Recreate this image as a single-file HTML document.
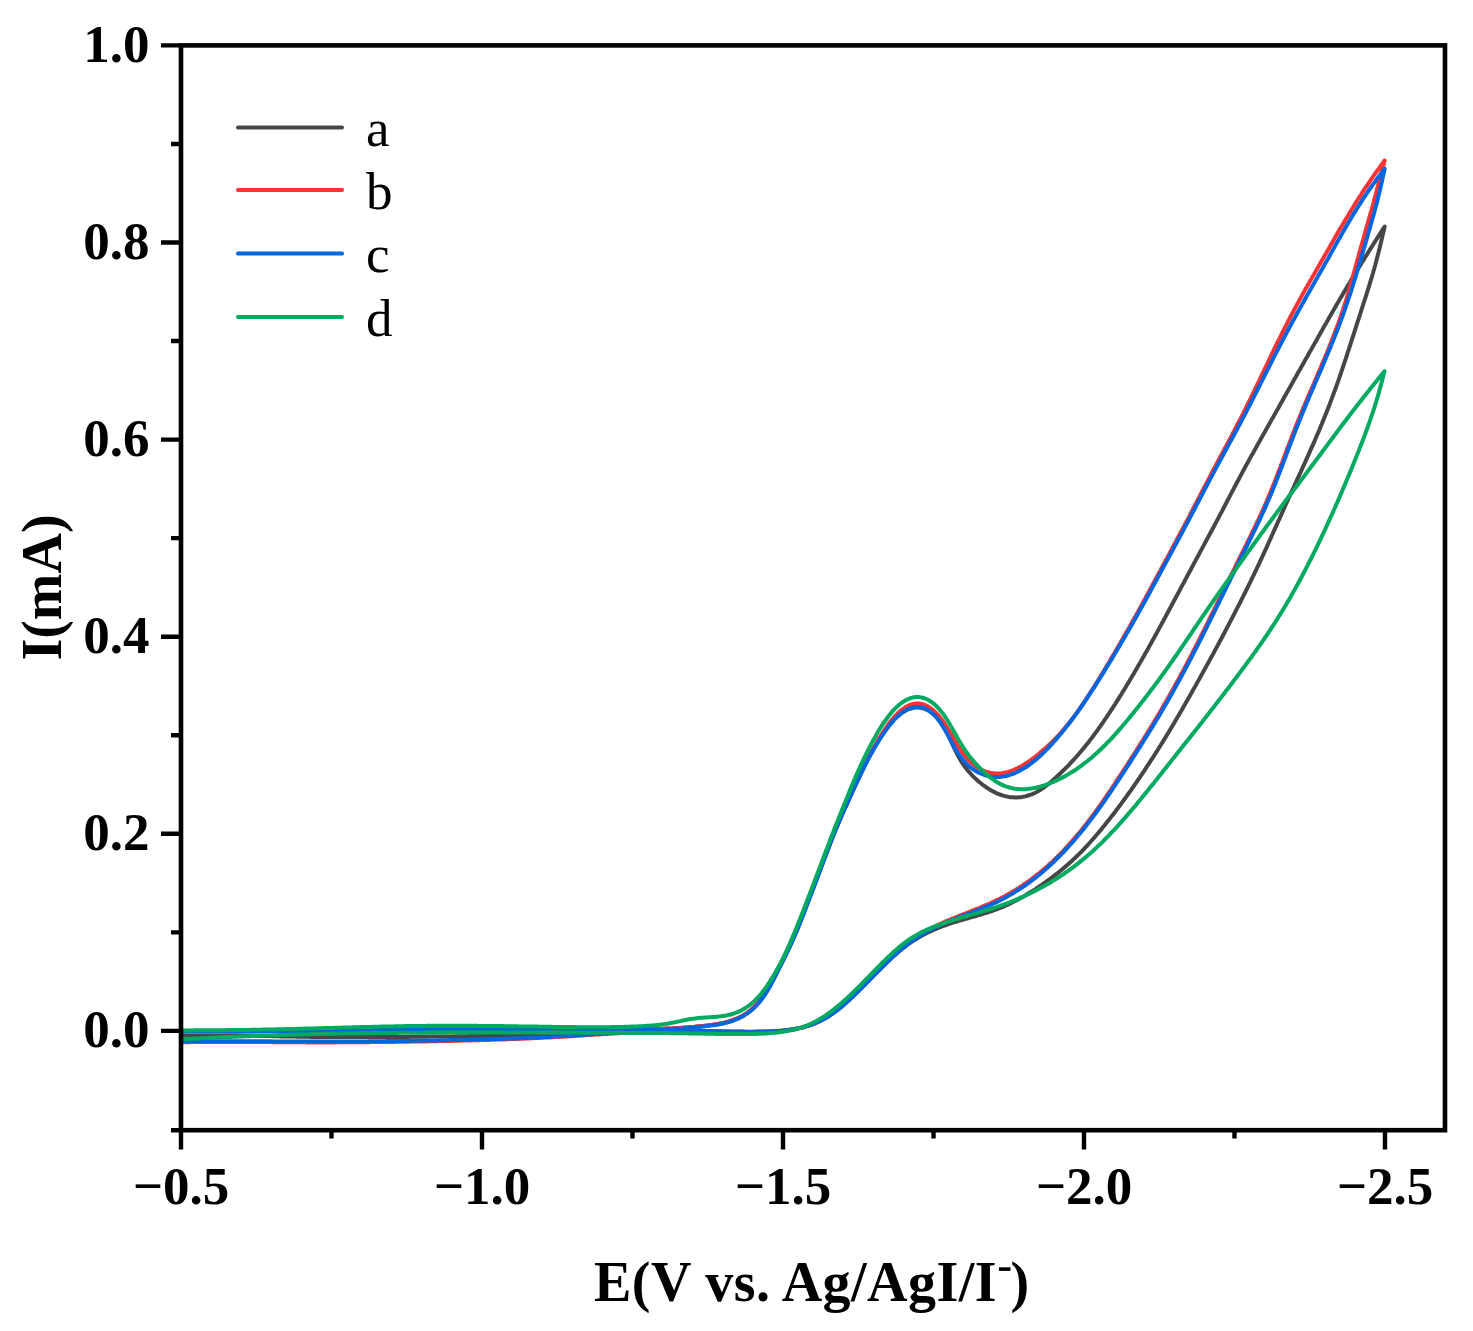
<!DOCTYPE html>
<html><head><meta charset="utf-8"><style>
html,body{margin:0;padding:0;background:#fff;}
body{width:1473px;height:1331px;overflow:hidden;}
svg{display:block;}
text{font-family:"Liberation Serif",serif;}
.b{font-weight:bold;}
</style></head><body>
<svg width="1473" height="1331" viewBox="0 0 1473 1331">
<rect width="1473" height="1331" fill="#fff"/>
<g fill="none" stroke-width="4" stroke-linejoin="round" stroke-linecap="round">
<path d="M181.0 1035.5L183.0 1035.5 185.0 1035.5 187.0 1035.5 189.0 1035.5 191.0 1035.5 193.0 1035.5 195.0 1035.5 197.0 1035.5 199.0 1035.5 201.0 1035.5 203.0 1035.5 205.0 1035.5 207.0 1035.5 209.0 1035.5 211.0 1035.5 213.0 1035.5 215.0 1035.5 217.0 1035.5 219.0 1035.5 221.0 1035.5 223.0 1035.5 225.0 1035.5 227.0 1035.5 229.0 1035.5 231.0 1035.5 233.0 1035.6 235.0 1035.6 237.0 1035.6 239.0 1035.6 241.0 1035.6 243.0 1035.7 245.0 1035.7 247.0 1035.7 249.0 1035.7 251.0 1035.8 253.0 1035.8 255.0 1035.8 257.0 1035.9 259.0 1035.9 261.0 1036.0 263.0 1036.0 265.0 1036.0 267.0 1036.1 269.0 1036.1 271.0 1036.1 273.0 1036.2 275.0 1036.2 277.0 1036.3 279.0 1036.3 281.0 1036.4 283.0 1036.4 285.0 1036.4 287.0 1036.5 289.0 1036.5 291.0 1036.5 293.0 1036.6 295.0 1036.6 297.0 1036.7 299.0 1036.7 301.0 1036.7 303.0 1036.7 305.0 1036.8 307.0 1036.8 309.0 1036.8 311.0 1036.9 313.0 1036.9 315.0 1036.9 317.0 1036.9 319.0 1036.9 321.0 1037.0 323.0 1037.0 325.0 1037.0 327.0 1037.0 329.0 1037.0 331.0 1037.0 333.0 1037.1 335.0 1037.1 337.0 1037.1 339.0 1037.1 341.0 1037.1 343.0 1037.1 345.0 1037.1 347.0 1037.1 349.0 1037.1 351.0 1037.1 353.0 1037.1 355.0 1037.1 357.0 1037.1 359.0 1037.1 361.0 1037.1 363.0 1037.1 365.0 1037.1 367.0 1037.1 369.0 1037.1 371.0 1037.1 373.0 1037.1 375.0 1037.1 377.0 1037.1 379.0 1037.1 381.0 1037.1 383.0 1037.0 385.0 1037.0 387.0 1037.0 389.0 1037.0 391.0 1037.0 393.0 1037.0 395.0 1037.0 397.0 1037.0 399.0 1036.9 401.0 1036.9 403.0 1036.9 405.0 1036.9 407.0 1036.9 409.0 1036.9 411.0 1036.8 413.0 1036.8 415.0 1036.8 417.0 1036.8 419.0 1036.8 421.0 1036.7 423.0 1036.7 425.0 1036.7 427.0 1036.7 429.0 1036.6 431.0 1036.6 433.0 1036.6 435.0 1036.6 437.0 1036.6 439.0 1036.5 441.0 1036.5 443.0 1036.5 445.0 1036.5 447.0 1036.4 449.0 1036.4 451.0 1036.4 453.0 1036.4 455.0 1036.3 457.0 1036.3 459.0 1036.3 461.0 1036.3 463.0 1036.2 465.0 1036.2 467.0 1036.2 469.0 1036.1 471.0 1036.1 473.0 1036.1 475.0 1036.1 477.0 1036.0 479.0 1036.0 481.0 1036.0 483.0 1035.9 485.0 1035.9 487.0 1035.9 489.0 1035.8 491.0 1035.8 493.0 1035.8 495.0 1035.7 497.0 1035.7 499.0 1035.7 501.0 1035.6 503.0 1035.6 505.0 1035.6 507.0 1035.5 509.0 1035.5 511.0 1035.4 513.0 1035.4 515.0 1035.4 517.0 1035.3 519.0 1035.3 521.0 1035.2 523.0 1035.2 525.0 1035.1 527.0 1035.1 529.0 1035.0 531.0 1035.0 533.0 1034.9 535.0 1034.9 537.0 1034.8 539.0 1034.8 541.0 1034.7 543.0 1034.7 545.0 1034.6 547.0 1034.6 549.0 1034.5 551.0 1034.5 553.0 1034.4 555.0 1034.3 557.0 1034.3 559.0 1034.2 561.0 1034.2 563.0 1034.1 565.0 1034.0 567.0 1034.0 569.0 1033.9 571.0 1033.8 573.0 1033.8 575.0 1033.7 577.0 1033.6 579.0 1033.5 581.0 1033.5 583.0 1033.4 585.0 1033.3 587.0 1033.3 589.0 1033.2 591.0 1033.1 593.0 1033.0 595.0 1033.0 597.0 1032.9 599.0 1032.8 601.0 1032.8 603.0 1032.7 605.0 1032.6 607.0 1032.5 609.0 1032.5 611.0 1032.4 613.0 1032.3 615.0 1032.3 617.0 1032.2 619.0 1032.1 621.0 1032.1 623.0 1032.0 625.0 1032.0 627.0 1031.9 629.0 1031.8 631.0 1031.8 633.0 1031.7 635.0 1031.7 637.0 1031.6 639.0 1031.5 641.0 1031.5 643.0 1031.4 645.0 1031.4 647.0 1031.4 649.0 1031.3 651.0 1031.3 653.0 1031.2 655.0 1031.2 657.0 1031.2 659.0 1031.1 661.0 1031.1 663.0 1031.1 665.0 1031.0 667.0 1031.0 669.0 1031.0 671.0 1031.0 673.0 1030.9 675.0 1030.9 677.0 1030.9 679.0 1030.9 681.0 1030.9 683.0 1030.9 685.0 1030.9 687.0 1030.9 689.0 1030.9 691.0 1030.9 693.0 1030.9 695.1 1030.9 697.1 1030.9 699.1 1031.0 701.1 1031.0 703.1 1031.0 705.1 1031.0 707.1 1031.1 709.1 1031.1 711.2 1031.1 713.2 1031.2 715.2 1031.2 717.2 1031.2 719.2 1031.3 721.2 1031.3 723.2 1031.4 725.3 1031.4 727.3 1031.4 729.3 1031.5 731.3 1031.5 733.3 1031.5 735.4 1031.6 737.4 1031.6 739.4 1031.6 741.4 1031.6 743.4 1031.6 745.4 1031.7 747.5 1031.7 749.5 1031.7 751.5 1031.7 753.5 1031.7 755.5 1031.7 757.6 1031.6 759.6 1031.6 761.6 1031.6 763.6 1031.6 765.6 1031.5 767.6 1031.5 769.6 1031.4 771.6 1031.3 773.7 1031.2 775.7 1031.1 777.7 1031.0 779.7 1030.8 781.6 1030.7 783.6 1030.5 785.6 1030.3 787.6 1030.1 789.5 1029.8 791.5 1029.5 793.5 1029.2 795.4 1028.9 797.3 1028.5 799.3 1028.1 801.2 1027.7 803.1 1027.2 805.0 1026.7 806.8 1026.1 808.7 1025.6 810.6 1024.9 812.4 1024.3 814.2 1023.6 816.0 1022.8 817.8 1022.0 819.6 1021.2 821.4 1020.4 823.1 1019.4 824.8 1018.5 826.5 1017.5 828.2 1016.5 829.8 1015.4 831.5 1014.3 833.1 1013.2 834.7 1012.1 836.3 1010.9 837.9 1009.7 839.4 1008.4 841.0 1007.2 842.5 1005.9 844.0 1004.6 845.5 1003.3 847.0 1001.9 848.5 1000.6 850.0 999.2 851.4 997.8 852.9 996.4 854.3 995.0 855.8 993.6 857.2 992.2 858.7 990.8 860.1 989.4 861.5 988.0 862.9 986.5 864.3 985.1 865.8 983.7 867.2 982.2 868.6 980.8 870.0 979.4 871.4 977.9 872.8 976.5 874.2 975.0 875.6 973.6 877.1 972.2 878.5 970.8 879.9 969.3 881.3 967.9 882.8 966.5 884.2 965.1 885.6 963.7 887.1 962.3 888.5 960.9 890.0 959.5 891.4 958.2 892.9 956.8 894.4 955.5 895.9 954.2 897.4 952.8 898.9 951.5 900.4 950.3 901.9 949.0 903.5 947.8 905.1 946.6 906.6 945.4 908.2 944.2 909.8 943.1 911.5 941.9 913.1 940.8 914.8 939.8 916.5 938.7 918.2 937.7 919.9 936.7 921.6 935.8 923.4 934.8 925.1 933.9 926.9 933.0 928.7 932.2 930.5 931.3 932.3 930.5 934.1 929.7 935.9 928.9 937.8 928.1 939.6 927.4 941.5 926.7 943.3 926.0 945.2 925.3 947.1 924.6 949.0 923.9 950.9 923.3 952.8 922.7 954.7 922.1 956.6 921.5 958.5 920.9 960.5 920.4 962.4 919.8 964.3 919.3 966.2 918.7 968.2 918.2 970.1 917.6 972.0 917.1 973.9 916.5 975.9 916.0 977.8 915.4 979.7 914.9 981.6 914.3 983.5 913.7 985.4 913.1 987.3 912.5 989.2 911.9 991.1 911.3 993.0 910.6 994.9 909.9 996.7 909.3 998.6 908.5 1000.4 907.8 1002.3 907.1 1004.1 906.3 1005.9 905.5 1007.7 904.6 1009.5 903.8 1011.3 902.9 1013.1 902.0 1014.8 901.1 1016.6 900.2 1018.4 899.3 1020.1 898.3 1021.8 897.4 1023.6 896.4 1025.3 895.4 1027.0 894.3 1028.7 893.3 1030.4 892.3 1032.1 891.2 1033.8 890.1 1035.5 889.1 1037.1 888.0 1038.8 886.8 1040.4 885.7 1042.1 884.6 1043.7 883.5 1045.4 882.3 1047.0 881.1 1048.6 880.0 1050.2 878.8 1051.8 877.6 1053.4 876.4 1055.0 875.2 1056.6 873.9 1058.1 872.7 1059.7 871.4 1061.2 870.2 1062.8 868.9 1064.3 867.6 1065.8 866.3 1067.3 865.0 1068.8 863.7 1070.3 862.3 1071.8 861.0 1073.2 859.6 1074.7 858.3 1076.1 856.9 1077.5 855.5 1079.0 854.1 1080.4 852.7 1081.8 851.3 1083.2 849.8 1084.5 848.4 1085.9 846.9 1087.3 845.5 1088.6 844.0 1090.0 842.5 1091.3 841.0 1092.6 839.5 1093.9 838.0 1095.2 836.5 1096.5 835.0 1097.8 833.5 1099.1 831.9 1100.4 830.4 1101.7 828.9 1102.9 827.3 1104.2 825.8 1105.4 824.2 1106.7 822.6 1107.9 821.1 1109.2 819.5 1110.4 817.9 1111.6 816.3 1112.9 814.7 1114.1 813.2 1115.3 811.6 1116.5 810.0 1117.7 808.4 1118.9 806.8 1120.1 805.2 1121.3 803.6 1122.5 801.9 1123.7 800.3 1124.8 798.7 1126.0 797.1 1127.2 795.5 1128.3 793.8 1129.5 792.2 1130.7 790.6 1131.8 788.9 1133.0 787.3 1134.1 785.7 1135.2 784.0 1136.4 782.4 1137.5 780.7 1138.6 779.1 1139.8 777.4 1140.9 775.7 1142.0 774.1 1143.1 772.4 1144.2 770.8 1145.3 769.1 1146.4 767.4 1147.5 765.7 1148.6 764.1 1149.7 762.4 1150.8 760.7 1151.9 759.0 1153.0 757.4 1154.1 755.7 1155.1 754.0 1156.2 752.3 1157.3 750.6 1158.3 748.9 1159.4 747.2 1160.5 745.5 1161.5 743.8 1162.6 742.1 1163.6 740.4 1164.7 738.7 1165.7 737.0 1166.7 735.3 1167.8 733.6 1168.8 731.9 1169.9 730.2 1170.9 728.4 1171.9 726.7 1172.9 725.0 1174.0 723.3 1175.0 721.6 1176.0 719.8 1177.0 718.1 1178.0 716.4 1179.0 714.7 1180.0 712.9 1181.0 711.2 1182.0 709.5 1183.0 707.7 1184.0 706.0 1185.0 704.3 1186.0 702.5 1187.0 700.8 1188.0 699.0 1189.0 697.3 1190.0 695.6 1191.0 693.8 1191.9 692.1 1192.9 690.3 1193.9 688.6 1194.9 686.9 1195.9 685.1 1196.8 683.4 1197.8 681.6 1198.8 679.9 1199.8 678.1 1200.7 676.4 1201.7 674.6 1202.7 672.9 1203.6 671.1 1204.6 669.4 1205.6 667.6 1206.5 665.9 1207.5 664.1 1208.5 662.4 1209.4 660.6 1210.4 658.9 1211.3 657.1 1212.3 655.4 1213.3 653.6 1214.2 651.8 1215.2 650.1 1216.1 648.3 1217.1 646.6 1218.0 644.8 1218.9 643.0 1219.9 641.3 1220.8 639.5 1221.8 637.8 1222.7 636.0 1223.6 634.2 1224.6 632.5 1225.5 630.7 1226.4 628.9 1227.3 627.1 1228.3 625.4 1229.2 623.6 1230.1 621.8 1231.0 620.1 1232.0 618.3 1232.9 616.5 1233.8 614.7 1234.7 613.0 1235.6 611.2 1236.5 609.4 1237.4 607.6 1238.4 605.8 1239.3 604.1 1240.2 602.3 1241.1 600.5 1242.0 598.7 1242.9 596.9 1243.8 595.1 1244.7 593.3 1245.6 591.6 1246.4 589.8 1247.3 588.0 1248.2 586.2 1249.1 584.4 1250.0 582.6 1250.9 580.8 1251.7 579.0 1252.6 577.2 1253.5 575.4 1254.3 573.6 1255.2 571.8 1256.1 570.0 1256.9 568.2 1257.8 566.4 1258.6 564.6 1259.5 562.8 1260.3 561.0 1261.2 559.2 1262.0 557.3 1262.8 555.5 1263.7 553.7 1264.5 551.9 1265.3 550.1 1266.2 548.3 1267.0 546.4 1267.8 544.6 1268.6 542.8 1269.4 541.0 1270.3 539.1 1271.1 537.3 1271.9 535.5 1272.7 533.7 1273.5 531.9 1274.3 530.0 1275.2 528.2 1276.0 526.4 1276.8 524.6 1277.6 522.7 1278.4 520.9 1279.3 519.1 1280.1 517.3 1280.9 515.4 1281.7 513.6 1282.5 511.8 1283.4 510.0 1284.2 508.1 1285.0 506.3 1285.8 504.5 1286.6 502.7 1287.5 500.9 1288.3 499.0 1289.1 497.2 1290.0 495.4 1290.8 493.6 1291.6 491.8 1292.4 489.9 1293.3 488.1 1294.1 486.3 1294.9 484.5 1295.8 482.7 1296.6 480.9 1297.4 479.0 1298.3 477.2 1299.1 475.4 1299.9 473.6 1300.8 471.8 1301.6 470.0 1302.4 468.1 1303.2 466.3 1304.1 464.5 1304.9 462.7 1305.7 460.9 1306.5 459.1 1307.4 457.2 1308.2 455.4 1309.0 453.6 1309.8 451.8 1310.6 449.9 1311.4 448.1 1312.2 446.3 1313.1 444.5 1313.9 442.6 1314.7 440.8 1315.4 439.0 1316.2 437.1 1317.0 435.3 1317.8 433.5 1318.6 431.6 1319.4 429.8 1320.1 428.0 1320.9 426.1 1321.7 424.3 1322.4 422.4 1323.2 420.6 1323.9 418.7 1324.7 416.9 1325.4 415.0 1326.2 413.2 1326.9 411.3 1327.6 409.5 1328.4 407.6 1329.1 405.7 1329.8 403.9 1330.5 402.0 1331.2 400.1 1331.9 398.3 1332.6 396.4 1333.3 394.5 1334.0 392.6 1334.7 390.8 1335.4 388.9 1336.1 387.0 1336.7 385.1 1337.4 383.2 1338.1 381.4 1338.7 379.5 1339.4 377.6 1340.0 375.7 1340.7 373.8 1341.3 371.9 1342.0 370.0 1342.6 368.1 1343.2 366.2 1343.9 364.3 1344.5 362.4 1345.1 360.5 1345.8 358.6 1346.4 356.7 1347.0 354.8 1347.6 352.9 1348.2 351.0 1348.9 349.1 1349.5 347.2 1350.1 345.3 1350.7 343.4 1351.3 341.5 1351.9 339.6 1352.5 337.7 1353.2 335.8 1353.8 333.9 1354.4 332.0 1355.0 330.1 1355.6 328.2 1356.2 326.3 1356.8 324.4 1357.4 322.5 1358.0 320.6 1358.7 318.7 1359.3 316.8 1359.9 314.9 1360.5 313.0 1361.1 311.1 1361.7 309.2 1362.3 307.2 1362.9 305.3 1363.5 303.4 1364.1 301.5 1364.8 299.6 1365.4 297.7 1366.0 295.8 1366.6 293.9 1367.2 292.0 1367.8 290.1 1368.4 288.2 1369.0 286.3 1369.6 284.4 1370.1 282.5 1370.7 280.6 1371.3 278.7 1371.9 276.8 1372.4 274.9 1373.0 273.0 1373.5 271.0 1374.1 269.1 1374.6 267.2 1375.2 265.3 1375.7 263.3 1376.2 261.4 1376.7 259.5 1377.2 257.6 1377.7 255.6 1378.2 253.7 1378.7 251.8 1379.2 249.8 1379.6 247.9 1380.1 245.9 1380.6 244.0 1381.1 242.1 1381.5 240.1 1382.0 238.2 1382.4 236.2 1382.9 234.3 1383.3 232.3 1383.8 230.4 1384.2 228.4 1384.7 226.5 1383.6 228.2 1382.5 229.9 1381.4 231.5 1380.4 233.2 1379.3 234.9 1378.2 236.6 1377.1 238.3 1376.0 240.0 1375.0 241.6 1373.9 243.3 1372.8 245.0 1371.8 246.7 1370.7 248.4 1369.6 250.1 1368.6 251.8 1367.5 253.5 1366.5 255.2 1365.4 256.9 1364.4 258.6 1363.3 260.3 1362.3 262.0 1361.2 263.7 1360.2 265.4 1359.1 267.1 1358.1 268.8 1357.0 270.5 1356.0 272.2 1355.0 273.9 1353.9 275.6 1352.9 277.3 1351.9 279.0 1350.8 280.7 1349.8 282.5 1348.8 284.2 1347.7 285.9 1346.7 287.6 1345.7 289.3 1344.7 291.0 1343.6 292.7 1342.6 294.5 1341.6 296.2 1340.6 297.9 1339.6 299.6 1338.6 301.4 1337.6 303.1 1336.6 304.8 1335.6 306.5 1334.6 308.3 1333.6 310.0 1332.6 311.7 1331.6 313.5 1330.6 315.2 1329.6 316.9 1328.6 318.7 1327.7 320.4 1326.7 322.1 1325.7 323.9 1324.7 325.6 1323.7 327.3 1322.7 329.1 1321.8 330.8 1320.8 332.5 1319.8 334.3 1318.8 336.0 1317.8 337.7 1316.9 339.5 1315.9 341.2 1314.9 342.9 1313.9 344.7 1312.9 346.4 1312.0 348.1 1311.0 349.9 1310.0 351.6 1309.0 353.3 1308.1 355.0 1307.1 356.8 1306.1 358.5 1305.1 360.2 1304.2 362.0 1303.2 363.7 1302.2 365.4 1301.2 367.1 1300.3 368.9 1299.3 370.6 1298.3 372.3 1297.3 374.0 1296.4 375.8 1295.4 377.5 1294.4 379.2 1293.4 381.0 1292.5 382.7 1291.5 384.4 1290.5 386.2 1289.6 387.9 1288.6 389.6 1287.6 391.4 1286.6 393.1 1285.7 394.8 1284.7 396.6 1283.7 398.3 1282.8 400.0 1281.8 401.8 1280.8 403.5 1279.8 405.2 1278.9 407.0 1277.9 408.7 1276.9 410.4 1275.9 412.2 1274.9 413.9 1274.0 415.6 1273.0 417.4 1272.0 419.1 1271.0 420.8 1270.1 422.6 1269.1 424.3 1268.1 426.1 1267.1 427.8 1266.1 429.5 1265.2 431.3 1264.2 433.0 1263.2 434.7 1262.2 436.5 1261.2 438.2 1260.3 440.0 1259.3 441.7 1258.3 443.4 1257.3 445.2 1256.4 446.9 1255.4 448.7 1254.4 450.4 1253.5 452.2 1252.5 453.9 1251.5 455.6 1250.5 457.4 1249.6 459.1 1248.6 460.9 1247.7 462.6 1246.7 464.4 1245.7 466.1 1244.8 467.9 1243.8 469.7 1242.9 471.4 1241.9 473.2 1241.0 474.9 1240.1 476.7 1239.1 478.5 1238.2 480.2 1237.2 482.0 1236.3 483.8 1235.4 485.5 1234.4 487.3 1233.5 489.1 1232.6 490.8 1231.6 492.6 1230.7 494.4 1229.8 496.1 1228.9 497.9 1227.9 499.7 1227.0 501.5 1226.1 503.2 1225.2 505.0 1224.2 506.8 1223.3 508.5 1222.4 510.3 1221.5 512.1 1220.5 513.9 1219.6 515.6 1218.7 517.4 1217.7 519.2 1216.8 520.9 1215.9 522.7 1214.9 524.5 1214.0 526.2 1213.1 528.0 1212.1 529.8 1211.2 531.5 1210.2 533.3 1209.3 535.0 1208.3 536.8 1207.4 538.6 1206.4 540.3 1205.5 542.1 1204.5 543.8 1203.6 545.6 1202.6 547.4 1201.7 549.1 1200.7 550.9 1199.8 552.6 1198.9 554.4 1197.9 556.2 1197.0 557.9 1196.0 559.7 1195.1 561.4 1194.1 563.2 1193.2 565.0 1192.2 566.7 1191.3 568.5 1190.4 570.3 1189.4 572.0 1188.5 573.8 1187.5 575.5 1186.6 577.3 1185.6 579.1 1184.7 580.8 1183.8 582.6 1182.8 584.4 1181.9 586.1 1180.9 587.9 1180.0 589.7 1179.1 591.4 1178.1 593.2 1177.2 594.9 1176.2 596.7 1175.3 598.5 1174.3 600.2 1173.4 602.0 1172.4 603.8 1171.5 605.5 1170.6 607.3 1169.6 609.0 1168.7 610.8 1167.7 612.6 1166.8 614.3 1165.8 616.1 1164.9 617.9 1163.9 619.6 1163.0 621.4 1162.0 623.1 1161.1 624.9 1160.1 626.6 1159.2 628.4 1158.2 630.2 1157.3 631.9 1156.3 633.7 1155.3 635.4 1154.4 637.2 1153.4 638.9 1152.4 640.7 1151.5 642.4 1150.5 644.2 1149.5 645.9 1148.6 647.7 1147.6 649.4 1146.6 651.2 1145.6 652.9 1144.6 654.7 1143.7 656.4 1142.7 658.1 1141.7 659.9 1140.7 661.6 1139.7 663.4 1138.7 665.1 1137.7 666.8 1136.7 668.6 1135.7 670.3 1134.7 672.0 1133.7 673.7 1132.6 675.5 1131.6 677.2 1130.6 678.9 1129.6 680.6 1128.6 682.4 1127.5 684.1 1126.5 685.8 1125.5 687.5 1124.4 689.2 1123.4 690.9 1122.3 692.6 1121.3 694.3 1120.2 696.0 1119.2 697.7 1118.1 699.4 1117.0 701.1 1115.9 702.8 1114.9 704.5 1113.8 706.2 1112.7 707.9 1111.6 709.5 1110.5 711.2 1109.4 712.9 1108.3 714.5 1107.2 716.2 1106.1 717.9 1104.9 719.5 1103.8 721.2 1102.7 722.8 1101.5 724.5 1100.4 726.1 1099.2 727.7 1098.1 729.4 1096.9 731.0 1095.7 732.6 1094.5 734.2 1093.4 735.8 1092.2 737.4 1091.0 739.0 1089.7 740.6 1088.5 742.2 1087.3 743.7 1086.0 745.3 1084.8 746.9 1083.5 748.4 1082.2 749.9 1080.9 751.5 1079.6 753.0 1078.3 754.5 1077.0 756.0 1075.7 757.5 1074.3 759.0 1073.0 760.5 1071.6 761.9 1070.3 763.4 1068.9 764.8 1067.5 766.3 1066.1 767.7 1064.7 769.1 1063.2 770.5 1061.8 771.9 1060.4 773.3 1058.9 774.7 1057.5 776.0 1056.0 777.4 1054.5 778.8 1053.0 780.1 1051.5 781.4 1050.0 782.7 1048.5 784.0 1046.9 785.2 1045.3 786.4 1043.7 787.6 1042.1 788.7 1040.5 789.8 1038.8 790.8 1037.1 791.8 1035.3 792.7 1033.6 793.5 1031.8 794.3 1030.0 794.9 1028.1 795.5 1026.3 796.1 1024.4 796.5 1022.5 796.9 1020.5 797.2 1018.6 797.3 1016.7 797.4 1014.7 797.4 1012.8 797.3 1010.9 797.2 1008.9 796.9 1007.0 796.5 1005.1 796.1 1003.2 795.6 1001.3 795.0 999.4 794.3 997.6 793.6 995.8 792.8 994.0 791.9 992.2 791.0 990.5 790.0 988.7 788.9 987.0 787.8 985.4 786.7 983.7 785.5 982.1 784.3 980.6 783.0 979.0 781.7 977.5 780.4 976.0 779.1 974.5 777.7 973.1 776.3 971.7 774.8 970.4 773.3 969.0 771.9 967.7 770.3 966.5 768.8 965.3 767.2 964.1 765.6 963.0 763.9 961.9 762.3 960.8 760.6 959.8 758.9 958.8 757.1 957.8 755.3 956.9 753.5 956.0 751.7 955.1 749.9 954.2 748.1 953.3 746.2 952.5 744.3 951.6 742.5 950.8 740.6 949.9 738.7 949.0 736.9 948.1 735.0 947.2 733.2 946.2 731.3 945.2 729.5 944.2 727.7 943.2 726.0 942.1 724.3 940.9 722.6 939.8 721.0 938.6 719.4 937.3 717.9 936.0 716.5 934.6 715.1 933.2 713.8 931.7 712.7 930.2 711.6 928.7 710.6 927.1 709.8 925.4 709.1 923.8 708.5 922.1 708.0 920.4 707.7 918.6 707.5 916.9 707.5 915.1 707.6 913.4 707.8 911.7 708.2 909.9 708.7 908.2 709.3 906.6 710.1 904.9 711.0 903.3 711.9 901.7 713.0 900.1 714.1 898.6 715.4 897.1 716.6 895.6 718.0 894.2 719.4 892.8 720.9 891.5 722.4 890.1 724.0 888.9 725.6 887.6 727.2 886.4 728.8 885.1 730.5 884.0 732.2 882.8 733.9 881.6 735.6 880.5 737.3 879.4 739.0 878.3 740.8 877.3 742.5 876.2 744.3 875.2 746.0 874.1 747.8 873.1 749.6 872.1 751.3 871.1 753.1 870.2 754.9 869.2 756.7 868.3 758.5 867.3 760.3 866.4 762.1 865.5 763.9 864.6 765.7 863.7 767.5 862.8 769.3 861.9 771.1 861.0 772.9 860.2 774.7 859.3 776.5 858.4 778.3 857.6 780.1 856.7 781.9 855.9 783.8 855.1 785.6 854.2 787.4 853.4 789.2 852.6 791.0 851.7 792.8 850.9 794.7 850.1 796.5 849.3 798.3 848.4 800.1 847.6 801.9 846.8 803.7 846.0 805.5 845.2 807.4 844.3 809.2 843.5 811.0 842.7 812.8 841.9 814.6 841.1 816.5 840.3 818.3 839.5 820.1 838.7 822.0 838.0 823.8 837.2 825.6 836.4 827.5 835.7 829.3 834.9 831.2 834.2 833.0 833.4 834.9 832.7 836.7 832.0 838.6 831.2 840.4 830.5 842.3 829.8 844.2 829.1 846.0 828.4 847.9 827.6 849.8 826.9 851.6 826.2 853.5 825.5 855.4 824.8 857.2 824.1 859.1 823.4 861.0 822.7 862.9 822.0 864.7 821.3 866.6 820.6 868.5 819.9 870.4 819.2 872.2 818.5 874.1 817.8 876.0 817.1 877.8 816.4 879.7 815.7 881.6 815.0 883.5 814.2 885.3 813.5 887.2 812.8 889.1 812.1 891.0 811.4 892.8 810.7 894.7 810.0 896.6 809.3 898.4 808.6 900.3 807.9 902.2 807.1 904.0 806.4 905.9 805.7 907.8 805.0 909.7 804.3 911.5 803.5 913.4 802.8 915.2 802.1 917.1 801.4 919.0 800.6 920.8 799.9 922.7 799.1 924.5 798.4 926.4 797.6 928.2 796.9 930.1 796.1 931.9 795.3 933.8 794.5 935.6 793.7 937.5 792.9 939.3 792.1 941.1 791.3 942.9 790.4 944.7 789.6 946.6 788.7 948.4 787.9 950.2 787.0 952.0 786.1 953.8 785.3 955.6 784.4 957.4 783.5 959.2 782.6 961.0 781.7 962.8 780.8 964.5 779.9 966.3 779.0 968.1 778.1 969.9 777.2 971.7 776.3 973.5 775.4 975.3 774.5 977.1 773.6 978.9 772.6 980.7 771.7 982.4 770.8 984.2 769.8 986.0 768.8 987.7 767.8 989.4 766.8 991.2 765.7 992.9 764.6 994.5 763.5 996.2 762.3 997.8 761.1 999.4 759.9 1001.0 758.6 1002.5 757.3 1004.0 755.9 1005.5 754.5 1006.9 753.1 1008.2 751.6 1009.5 750.1 1010.8 748.5 1012.0 746.9 1013.2 745.2 1014.2 743.5 1015.3 741.8 1016.2 740.0 1017.1 738.2 1018.0 736.4 1018.8 734.5 1019.5 732.7 1020.2 730.8 1020.8 728.9 1021.4 726.9 1022.0 725.0 1022.5 723.0 1022.9 721.1 1023.3 719.1 1023.7 717.1 1024.1 715.2 1024.4 713.2 1024.7 711.2 1025.0 709.2 1025.2 707.2 1025.5 705.2 1025.7 703.2 1025.9 701.2 1026.1 699.2 1026.3 697.2 1026.5 695.2 1026.7 693.2 1026.9 691.2 1027.0 689.2 1027.2 687.2 1027.4 685.2 1027.5 683.2 1027.7 681.2 1027.8 679.3 1027.9 677.3 1028.1 675.3 1028.2 673.3 1028.3 671.3 1028.4 669.3 1028.5 667.3 1028.6 665.3 1028.6 663.3 1028.7 661.3 1028.8 659.3 1028.8 657.3 1028.9 655.3 1028.9 653.3 1028.9 651.3 1029.0 649.3 1029.0 647.3 1029.0 645.3 1029.0 643.3 1029.0 641.3 1029.1 639.3 1029.1 637.3 1029.1 635.3 1029.1 633.3 1029.1 631.3 1029.1 629.3 1029.1 627.3 1029.1 625.2 1029.2 623.2 1029.2 621.2 1029.2 619.2 1029.2 617.2 1029.2 615.2 1029.2 613.2 1029.2 611.2 1029.2 609.2 1029.2 607.2 1029.2 605.2 1029.3 603.2 1029.3 601.2 1029.3 599.2 1029.3 597.2 1029.3 595.2 1029.3 593.2 1029.3 591.2 1029.3 589.2 1029.3 587.2 1029.3 585.2 1029.3 583.2 1029.3 581.2 1029.3 579.2 1029.3 577.2 1029.3 575.2 1029.3 573.2 1029.3 571.2 1029.3 569.2 1029.3 567.2 1029.3 565.2 1029.3 563.2 1029.3 561.2 1029.3 559.2 1029.3 557.2 1029.3 555.2 1029.3 553.2 1029.3 551.2 1029.3 549.2 1029.3 547.2 1029.2 545.2 1029.2 543.2 1029.2 541.2 1029.2 539.2 1029.2 537.2 1029.2 535.2 1029.2 533.2 1029.2 531.2 1029.2 529.2 1029.2 527.2 1029.2 525.2 1029.1 523.2 1029.1 521.2 1029.1 519.2 1029.1 517.2 1029.1 515.2 1029.1 513.2 1029.1 511.2 1029.1 509.2 1029.1 507.2 1029.0 505.2 1029.0 503.2 1029.0 501.2 1029.0 499.2 1029.0 497.2 1029.0 495.2 1029.0 493.2 1029.0 491.2 1029.0 489.2 1028.9 487.2 1028.9 485.2 1028.9 483.2 1028.9 481.2 1028.9 479.2 1028.9 477.2 1028.9 475.2 1028.9 473.2 1028.9 471.2 1028.9 469.2 1028.9 467.2 1028.9 465.2 1028.9 463.2 1028.9 461.2 1028.9 459.2 1028.8 457.1 1028.8 455.1 1028.8 453.1 1028.8 451.1 1028.8 449.1 1028.8 447.1 1028.8 445.1 1028.8 443.1 1028.9 441.1 1028.9 439.1 1028.9 437.1 1028.9 435.1 1028.9 433.1 1028.9 431.1 1028.9 429.1 1028.9 427.1 1028.9 425.1 1028.9 423.1 1028.9 421.1 1028.9 419.1 1029.0 417.1 1029.0 415.1 1029.0 413.1 1029.0 411.1 1029.0 409.1 1029.0 407.1 1029.0 405.1 1029.1 403.1 1029.1 401.1 1029.1 399.1 1029.1 397.1 1029.1 395.1 1029.2 393.1 1029.2 391.1 1029.2 389.1 1029.2 387.1 1029.2 385.1 1029.3 383.1 1029.3 381.1 1029.3 379.1 1029.3 377.1 1029.4 375.1 1029.4 373.1 1029.4 371.1 1029.4 369.1 1029.5 367.1 1029.5 365.1 1029.5 363.1 1029.5 361.1 1029.6 359.1 1029.6 357.1 1029.6 355.1 1029.6 353.1 1029.7 351.1 1029.7 349.1 1029.7 347.1 1029.7 345.1 1029.8 343.1 1029.8 341.1 1029.8 339.1 1029.9 337.1 1029.9 335.1 1029.9 333.1 1029.9 331.1 1030.0 329.1 1030.0 327.1 1030.0 325.1 1030.0 323.1 1030.1 321.1 1030.1 319.1 1030.1 317.1 1030.2 315.1 1030.2 313.1 1030.2 311.1 1030.2 309.1 1030.3 307.1 1030.3 305.1 1030.3 303.1 1030.3 301.1 1030.4 299.1 1030.4 297.1 1030.4 295.1 1030.4 293.1 1030.5 291.1 1030.5 289.1 1030.5 287.1 1030.5 285.1 1030.5 283.1 1030.6 281.1 1030.6 279.1 1030.6 277.1 1030.6 275.1 1030.6 273.1 1030.7 271.1 1030.7 269.1 1030.7 267.0 1030.7 265.0 1030.7 263.0 1030.8 261.0 1030.8 259.0 1030.8 257.0 1030.8 255.0 1030.8 253.0 1030.8 251.0 1030.8 249.0 1030.9 247.0 1030.9 245.0 1030.9 243.0 1030.9 241.0 1030.9 239.0 1030.9 237.0 1030.9 235.0 1030.9 233.0 1030.9 231.0 1030.9 229.0 1030.9 227.0 1030.9 225.0 1031.0 223.0 1031.0 221.0 1031.0 219.0 1031.0 217.0 1031.0 215.0 1031.0 213.0 1031.0 211.0 1031.0 209.0 1031.0 207.0 1031.0 205.0 1031.0 203.0 1031.0 201.0 1031.0 199.0 1031.0 197.0 1031.0 195.0 1031.0 193.0 1031.0 191.0 1031.0 189.0 1031.0 187.0 1031.0 185.0 1031.0 183.0 1031.0 181.0 1031.0" stroke="#464646"/>
<path d="M181.0 1042.2L183.0 1042.2 185.0 1042.2 187.0 1042.2 189.0 1042.2 191.0 1042.1 193.0 1042.1 195.0 1042.1 197.0 1042.1 199.0 1042.1 201.0 1042.1 203.0 1042.1 205.0 1042.1 207.0 1042.1 209.0 1042.0 211.0 1042.0 213.0 1042.0 215.0 1042.0 217.0 1042.0 219.0 1042.0 221.0 1042.0 223.0 1042.0 225.0 1042.0 227.0 1042.0 229.0 1042.0 231.0 1042.0 233.0 1042.0 235.0 1042.0 237.0 1042.0 239.0 1042.0 241.0 1042.0 243.1 1042.0 245.1 1042.0 247.1 1042.0 249.1 1042.0 251.1 1042.0 253.1 1042.0 255.1 1042.0 257.1 1042.1 259.1 1042.1 261.1 1042.1 263.1 1042.1 265.1 1042.1 267.1 1042.1 269.1 1042.1 271.1 1042.1 273.1 1042.2 275.1 1042.2 277.1 1042.2 279.1 1042.2 281.1 1042.2 283.1 1042.2 285.1 1042.2 287.1 1042.3 289.1 1042.3 291.1 1042.3 293.1 1042.3 295.1 1042.3 297.1 1042.3 299.1 1042.3 301.1 1042.3 303.1 1042.3 305.1 1042.3 307.1 1042.4 309.1 1042.4 311.1 1042.4 313.1 1042.4 315.1 1042.4 317.1 1042.4 319.1 1042.4 321.1 1042.4 323.1 1042.4 325.1 1042.4 327.1 1042.4 329.1 1042.4 331.1 1042.4 333.1 1042.4 335.1 1042.4 337.1 1042.3 339.1 1042.3 341.1 1042.3 343.1 1042.3 345.1 1042.3 347.1 1042.3 349.1 1042.3 351.1 1042.3 353.1 1042.3 355.1 1042.3 357.1 1042.2 359.1 1042.2 361.1 1042.2 363.2 1042.2 365.2 1042.2 367.2 1042.2 369.2 1042.2 371.2 1042.1 373.2 1042.1 375.2 1042.1 377.2 1042.1 379.2 1042.1 381.2 1042.0 383.2 1042.0 385.2 1042.0 387.2 1042.0 389.2 1041.9 391.2 1041.9 393.2 1041.9 395.2 1041.9 397.2 1041.8 399.2 1041.8 401.2 1041.8 403.2 1041.7 405.2 1041.7 407.2 1041.7 409.2 1041.7 411.2 1041.6 413.2 1041.6 415.2 1041.6 417.2 1041.5 419.2 1041.5 421.2 1041.5 423.2 1041.4 425.2 1041.4 427.2 1041.4 429.2 1041.3 431.2 1041.3 433.2 1041.2 435.2 1041.2 437.2 1041.2 439.2 1041.1 441.2 1041.1 443.2 1041.0 445.2 1041.0 447.2 1041.0 449.2 1040.9 451.2 1040.9 453.2 1040.8 455.2 1040.8 457.2 1040.7 459.2 1040.7 461.2 1040.6 463.2 1040.6 465.2 1040.5 467.2 1040.5 469.2 1040.4 471.2 1040.4 473.2 1040.3 475.2 1040.3 477.2 1040.2 479.2 1040.2 481.2 1040.1 483.2 1040.1 485.2 1040.0 487.2 1039.9 489.2 1039.9 491.2 1039.8 493.2 1039.8 495.2 1039.7 497.2 1039.6 499.3 1039.6 501.3 1039.5 503.3 1039.4 505.3 1039.4 507.3 1039.3 509.3 1039.2 511.3 1039.1 513.3 1039.1 515.3 1039.0 517.3 1038.9 519.3 1038.8 521.3 1038.7 523.3 1038.7 525.3 1038.6 527.3 1038.5 529.3 1038.4 531.3 1038.3 533.2 1038.2 535.2 1038.1 537.2 1038.0 539.2 1037.9 541.2 1037.8 543.2 1037.7 545.2 1037.6 547.2 1037.5 549.2 1037.4 551.2 1037.3 553.2 1037.2 555.2 1037.1 557.2 1037.0 559.2 1036.9 561.2 1036.8 563.2 1036.7 565.2 1036.5 567.2 1036.4 569.2 1036.3 571.2 1036.2 573.2 1036.0 575.2 1035.9 577.2 1035.8 579.2 1035.7 581.2 1035.5 583.2 1035.4 585.2 1035.3 587.2 1035.1 589.2 1035.0 591.2 1034.9 593.2 1034.8 595.2 1034.6 597.2 1034.5 599.2 1034.4 601.2 1034.3 603.2 1034.1 605.2 1034.0 607.2 1033.9 609.2 1033.8 611.2 1033.7 613.2 1033.5 615.2 1033.4 617.2 1033.3 619.2 1033.2 621.1 1033.1 623.1 1033.0 625.1 1032.9 627.1 1032.8 629.1 1032.7 631.1 1032.6 633.1 1032.5 635.1 1032.4 637.1 1032.4 639.1 1032.3 641.1 1032.2 643.1 1032.1 645.1 1032.1 647.1 1032.0 649.1 1031.9 651.1 1031.9 653.1 1031.8 655.1 1031.8 657.1 1031.8 659.1 1031.7 661.1 1031.7 663.1 1031.7 665.1 1031.6 667.1 1031.6 669.2 1031.6 671.2 1031.6 673.2 1031.6 675.2 1031.5 677.2 1031.5 679.2 1031.5 681.2 1031.5 683.2 1031.5 685.2 1031.5 687.2 1031.6 689.2 1031.6 691.2 1031.6 693.2 1031.6 695.2 1031.6 697.3 1031.6 699.3 1031.7 701.3 1031.7 703.3 1031.7 705.3 1031.8 707.3 1031.8 709.3 1031.8 711.4 1031.9 713.4 1031.9 715.4 1032.0 717.4 1032.0 719.4 1032.0 721.4 1032.1 723.5 1032.1 725.5 1032.2 727.5 1032.2 729.5 1032.2 731.5 1032.3 733.6 1032.3 735.6 1032.3 737.6 1032.3 739.6 1032.4 741.6 1032.4 743.6 1032.4 745.7 1032.4 747.7 1032.4 749.7 1032.4 751.7 1032.4 753.7 1032.4 755.8 1032.3 757.8 1032.3 759.8 1032.3 761.8 1032.2 763.8 1032.2 765.8 1032.1 767.8 1032.0 769.9 1031.9 771.9 1031.8 773.9 1031.7 775.9 1031.6 777.9 1031.4 779.8 1031.2 781.8 1031.1 783.8 1030.8 785.8 1030.6 787.8 1030.3 789.7 1030.0 791.7 1029.7 793.6 1029.4 795.5 1029.0 797.5 1028.6 799.4 1028.1 801.3 1027.7 803.2 1027.2 805.1 1026.6 807.0 1026.0 808.8 1025.4 810.7 1024.8 812.5 1024.1 814.3 1023.3 816.1 1022.6 817.9 1021.7 819.7 1020.9 821.4 1020.0 823.1 1019.1 824.8 1018.1 826.5 1017.1 828.2 1016.1 829.9 1015.0 831.5 1013.9 833.1 1012.7 834.7 1011.6 836.3 1010.4 837.9 1009.2 839.4 1007.9 841.0 1006.6 842.5 1005.4 844.0 1004.1 845.5 1002.7 847.0 1001.4 848.5 1000.0 850.0 998.7 851.4 997.3 852.9 995.9 854.3 994.5 855.8 993.1 857.2 991.7 858.7 990.3 860.1 988.9 861.5 987.4 862.9 986.0 864.3 984.6 865.8 983.1 867.2 981.7 868.6 980.3 870.0 978.8 871.4 977.4 872.8 975.9 874.2 974.5 875.6 973.1 877.1 971.6 878.5 970.2 879.9 968.8 881.3 967.4 882.7 966.0 884.2 964.5 885.6 963.1 887.0 961.7 888.5 960.3 889.9 959.0 891.3 957.6 892.8 956.2 894.3 954.8 895.7 953.5 897.2 952.2 898.7 950.8 900.2 949.5 901.7 948.2 903.2 947.0 904.8 945.7 906.3 944.5 907.9 943.2 909.5 942.0 911.1 940.9 912.7 939.7 914.3 938.6 916.0 937.5 917.6 936.4 919.3 935.3 921.0 934.3 922.7 933.2 924.4 932.2 926.1 931.2 927.9 930.3 929.6 929.3 931.4 928.4 933.1 927.4 934.9 926.5 936.7 925.6 938.5 924.8 940.3 923.9 942.1 923.1 943.9 922.2 945.7 921.4 947.6 920.6 949.4 919.8 951.3 919.0 953.1 918.3 955.0 917.5 956.8 916.8 958.7 916.0 960.6 915.3 962.4 914.6 964.3 913.8 966.2 913.1 968.0 912.4 969.9 911.6 971.8 910.9 973.6 910.2 975.5 909.4 977.4 908.7 979.2 908.0 981.1 907.2 982.9 906.4 984.8 905.7 986.6 904.9 988.5 904.1 990.3 903.3 992.1 902.4 993.9 901.6 995.7 900.7 997.5 899.9 999.3 899.0 1001.1 898.1 1002.9 897.2 1004.6 896.2 1006.4 895.3 1008.1 894.3 1009.9 893.3 1011.6 892.3 1013.3 891.3 1015.0 890.3 1016.7 889.2 1018.4 888.2 1020.0 887.1 1021.7 886.0 1023.4 884.9 1025.0 883.7 1026.6 882.6 1028.3 881.4 1029.9 880.3 1031.5 879.1 1033.1 877.9 1034.7 876.7 1036.2 875.4 1037.8 874.2 1039.4 873.0 1040.9 871.7 1042.4 870.4 1043.9 869.1 1045.5 867.8 1047.0 866.5 1048.4 865.2 1049.9 863.8 1051.4 862.5 1052.9 861.1 1054.3 859.7 1055.7 858.3 1057.2 856.9 1058.6 855.5 1060.0 854.1 1061.4 852.7 1062.8 851.3 1064.2 849.8 1065.5 848.4 1066.9 846.9 1068.3 845.4 1069.6 843.9 1070.9 842.4 1072.3 840.9 1073.6 839.4 1074.9 837.9 1076.2 836.4 1077.5 834.9 1078.7 833.3 1080.0 831.8 1081.3 830.2 1082.5 828.7 1083.8 827.1 1085.0 825.5 1086.3 823.9 1087.5 822.4 1088.7 820.8 1089.9 819.2 1091.1 817.6 1092.3 816.0 1093.5 814.4 1094.7 812.7 1095.9 811.1 1097.1 809.5 1098.2 807.9 1099.4 806.3 1100.6 804.6 1101.7 803.0 1102.9 801.3 1104.0 799.7 1105.2 798.0 1106.3 796.4 1107.4 794.7 1108.5 793.1 1109.7 791.4 1110.8 789.8 1111.9 788.1 1113.0 786.4 1114.1 784.8 1115.2 783.1 1116.3 781.4 1117.4 779.7 1118.5 778.1 1119.6 776.4 1120.7 774.7 1121.8 773.0 1122.9 771.4 1124.0 769.7 1125.1 768.0 1126.2 766.3 1127.3 764.6 1128.3 762.9 1129.4 761.3 1130.5 759.6 1131.6 757.9 1132.7 756.2 1133.7 754.5 1134.8 752.8 1135.9 751.1 1137.0 749.4 1138.0 747.7 1139.1 746.1 1140.2 744.4 1141.2 742.7 1142.3 741.0 1143.4 739.3 1144.4 737.6 1145.5 735.9 1146.5 734.2 1147.6 732.5 1148.6 730.8 1149.7 729.1 1150.7 727.4 1151.8 725.7 1152.8 723.9 1153.9 722.2 1154.9 720.5 1155.9 718.8 1156.9 717.1 1158.0 715.4 1159.0 713.6 1160.0 711.9 1161.0 710.2 1162.0 708.5 1163.0 706.7 1164.0 705.0 1165.0 703.3 1166.0 701.5 1167.0 699.8 1168.0 698.1 1169.0 696.3 1170.0 694.6 1171.0 692.8 1172.0 691.1 1172.9 689.3 1173.9 687.6 1174.9 685.8 1175.8 684.1 1176.8 682.3 1177.8 680.6 1178.7 678.8 1179.7 677.1 1180.6 675.3 1181.6 673.6 1182.5 671.8 1183.5 670.0 1184.4 668.3 1185.3 666.5 1186.3 664.7 1187.2 663.0 1188.1 661.2 1189.1 659.4 1190.0 657.6 1190.9 655.9 1191.8 654.1 1192.7 652.3 1193.7 650.5 1194.6 648.7 1195.5 647.0 1196.4 645.2 1197.3 643.4 1198.2 641.6 1199.1 639.8 1200.0 638.0 1200.9 636.2 1201.8 634.5 1202.7 632.7 1203.6 630.9 1204.5 629.1 1205.4 627.3 1206.3 625.5 1207.2 623.7 1208.1 621.9 1208.9 620.1 1209.8 618.3 1210.7 616.5 1211.6 614.7 1212.5 612.9 1213.4 611.1 1214.3 609.3 1215.1 607.6 1216.0 605.8 1216.9 604.0 1217.8 602.2 1218.7 600.4 1219.6 598.6 1220.4 596.8 1221.3 595.0 1222.2 593.2 1223.1 591.4 1224.0 589.6 1224.9 587.8 1225.7 586.0 1226.6 584.2 1227.5 582.4 1228.4 580.6 1229.3 578.8 1230.2 577.0 1231.1 575.2 1231.9 573.4 1232.8 571.7 1233.7 569.9 1234.6 568.1 1235.5 566.3 1236.4 564.5 1237.3 562.7 1238.2 560.9 1239.0 559.1 1239.9 557.3 1240.8 555.5 1241.7 553.7 1242.6 551.9 1243.5 550.2 1244.4 548.4 1245.3 546.6 1246.2 544.8 1247.0 543.0 1247.9 541.2 1248.8 539.4 1249.7 537.6 1250.6 535.8 1251.5 534.0 1252.3 532.2 1253.2 530.4 1254.1 528.6 1254.9 526.9 1255.8 525.1 1256.7 523.2 1257.5 521.4 1258.4 519.6 1259.2 517.8 1260.1 516.0 1260.9 514.2 1261.7 512.4 1262.5 510.6 1263.4 508.8 1264.2 506.9 1265.0 505.1 1265.8 503.3 1266.6 501.4 1267.3 499.6 1268.1 497.8 1268.9 495.9 1269.7 494.1 1270.4 492.2 1271.2 490.4 1271.9 488.5 1272.7 486.7 1273.4 484.8 1274.2 483.0 1274.9 481.1 1275.6 479.3 1276.4 477.4 1277.1 475.5 1277.8 473.7 1278.5 471.8 1279.2 469.9 1280.0 468.1 1280.7 466.2 1281.4 464.3 1282.1 462.5 1282.8 460.6 1283.5 458.7 1284.2 456.9 1284.9 455.0 1285.6 453.1 1286.3 451.2 1287.0 449.4 1287.7 447.5 1288.4 445.6 1289.2 443.8 1289.9 441.9 1290.6 440.0 1291.3 438.2 1292.0 436.3 1292.7 434.4 1293.5 432.6 1294.2 430.7 1294.9 428.8 1295.6 427.0 1296.4 425.1 1297.1 423.3 1297.9 421.4 1298.6 419.5 1299.4 417.7 1300.1 415.8 1300.9 414.0 1301.6 412.1 1302.4 410.3 1303.2 408.4 1303.9 406.6 1304.7 404.7 1305.5 402.9 1306.3 401.1 1307.0 399.2 1307.8 397.4 1308.6 395.5 1309.4 393.7 1310.2 391.9 1311.0 390.0 1311.8 388.2 1312.6 386.3 1313.4 384.5 1314.2 382.7 1314.9 380.8 1315.7 379.0 1316.5 377.2 1317.3 375.3 1318.1 373.5 1318.9 371.6 1319.7 369.8 1320.5 368.0 1321.3 366.1 1322.0 364.3 1322.8 362.4 1323.6 360.6 1324.4 358.7 1325.2 356.9 1325.9 355.0 1326.7 353.2 1327.5 351.4 1328.2 349.5 1329.0 347.6 1329.7 345.8 1330.5 343.9 1331.2 342.1 1331.9 340.2 1332.7 338.4 1333.4 336.5 1334.1 334.6 1334.8 332.8 1335.5 330.9 1336.2 329.0 1336.9 327.2 1337.6 325.3 1338.3 323.4 1339.0 321.5 1339.6 319.6 1340.3 317.8 1340.9 315.9 1341.6 314.0 1342.2 312.1 1342.9 310.2 1343.5 308.3 1344.1 306.4 1344.7 304.5 1345.3 302.6 1345.9 300.7 1346.5 298.8 1347.1 296.9 1347.6 294.9 1348.2 293.0 1348.8 291.1 1349.3 289.2 1349.9 287.3 1350.4 285.4 1351.0 283.4 1351.5 281.5 1352.0 279.6 1352.6 277.7 1353.1 275.8 1353.6 273.8 1354.2 271.9 1354.7 270.0 1355.2 268.1 1355.7 266.1 1356.3 264.2 1356.8 262.3 1357.3 260.4 1357.8 258.5 1358.4 256.5 1358.9 254.6 1359.4 252.7 1360.0 250.8 1360.5 248.9 1361.0 246.9 1361.5 245.0 1362.1 243.1 1362.6 241.2 1363.2 239.3 1363.7 237.4 1364.2 235.5 1364.8 233.6 1365.3 231.6 1365.9 229.7 1366.4 227.8 1366.9 225.9 1367.5 224.0 1368.0 222.1 1368.6 220.2 1369.1 218.3 1369.7 216.4 1370.2 214.5 1370.7 212.6 1371.3 210.6 1371.8 208.7 1372.3 206.8 1372.9 204.9 1373.4 203.0 1373.9 201.1 1374.4 199.1 1374.9 197.2 1375.5 195.3 1376.0 193.4 1376.5 191.4 1377.0 189.5 1377.5 187.6 1378.0 185.6 1378.5 183.7 1379.0 181.8 1379.5 179.9 1380.0 177.9 1380.5 176.0 1381.1 174.0 1381.6 172.1 1382.1 170.2 1382.6 168.2 1383.1 166.3 1383.6 164.4 1384.1 162.4 1384.6 160.5 1383.4 162.1 1382.3 163.7 1381.1 165.3 1379.9 167.0 1378.8 168.6 1377.6 170.2 1376.4 171.8 1375.3 173.5 1374.1 175.1 1373.0 176.7 1371.9 178.4 1370.7 180.0 1369.6 181.7 1368.5 183.3 1367.4 185.0 1366.2 186.6 1365.1 188.3 1364.0 190.0 1362.9 191.6 1361.9 193.3 1360.8 195.0 1359.7 196.7 1358.6 198.4 1357.5 200.0 1356.5 201.7 1355.4 203.4 1354.4 205.1 1353.3 206.8 1352.3 208.5 1351.2 210.2 1350.2 211.9 1349.1 213.6 1348.1 215.4 1347.1 217.1 1346.0 218.8 1345.0 220.5 1344.0 222.2 1343.0 223.9 1342.0 225.7 1341.0 227.4 1339.9 229.1 1338.9 230.8 1337.9 232.6 1336.9 234.3 1335.9 236.0 1334.9 237.8 1333.9 239.5 1332.9 241.2 1331.9 243.0 1330.9 244.7 1329.9 246.4 1329.0 248.2 1328.0 249.9 1327.0 251.6 1326.0 253.4 1325.0 255.1 1324.0 256.8 1323.0 258.6 1322.0 260.3 1321.0 262.0 1320.0 263.8 1319.0 265.5 1318.0 267.2 1317.0 269.0 1316.0 270.7 1315.0 272.4 1314.0 274.2 1313.0 275.9 1312.0 277.7 1311.0 279.4 1310.0 281.1 1309.1 282.9 1308.1 284.6 1307.1 286.4 1306.1 288.1 1305.1 289.8 1304.1 291.6 1303.2 293.3 1302.2 295.1 1301.2 296.8 1300.3 298.6 1299.3 300.3 1298.3 302.1 1297.4 303.8 1296.4 305.6 1295.5 307.4 1294.5 309.1 1293.6 310.9 1292.7 312.7 1291.7 314.4 1290.8 316.2 1289.9 318.0 1288.9 319.7 1288.0 321.5 1287.1 323.3 1286.2 325.1 1285.3 326.8 1284.4 328.6 1283.5 330.4 1282.6 332.2 1281.7 334.0 1280.8 335.8 1279.9 337.6 1279.0 339.4 1278.1 341.1 1277.2 342.9 1276.4 344.7 1275.5 346.5 1274.6 348.3 1273.7 350.1 1272.9 351.9 1272.0 353.7 1271.1 355.6 1270.3 357.4 1269.4 359.2 1268.5 361.0 1267.7 362.8 1266.8 364.6 1266.0 366.4 1265.1 368.2 1264.2 370.0 1263.4 371.8 1262.5 373.6 1261.7 375.4 1260.8 377.2 1259.9 379.0 1259.1 380.8 1258.2 382.6 1257.3 384.4 1256.5 386.2 1255.6 388.0 1254.7 389.8 1253.9 391.6 1253.0 393.4 1252.1 395.2 1251.3 397.0 1250.4 398.8 1249.5 400.6 1248.6 402.4 1247.7 404.2 1246.8 406.0 1246.0 407.7 1245.1 409.5 1244.2 411.3 1243.3 413.1 1242.4 414.9 1241.5 416.6 1240.6 418.4 1239.7 420.2 1238.7 422.0 1237.8 423.7 1236.9 425.5 1236.0 427.3 1235.1 429.0 1234.2 430.8 1233.2 432.6 1232.3 434.3 1231.4 436.1 1230.4 437.9 1229.5 439.6 1228.6 441.4 1227.6 443.1 1226.7 444.9 1225.7 446.7 1224.8 448.4 1223.9 450.2 1222.9 451.9 1222.0 453.7 1221.1 455.4 1220.1 457.2 1219.2 459.0 1218.2 460.7 1217.3 462.5 1216.4 464.2 1215.4 466.0 1214.5 467.8 1213.6 469.5 1212.6 471.3 1211.7 473.1 1210.8 474.8 1209.9 476.6 1208.9 478.4 1208.0 480.1 1207.1 481.9 1206.2 483.7 1205.2 485.5 1204.3 487.2 1203.4 489.0 1202.5 490.8 1201.6 492.5 1200.6 494.3 1199.7 496.1 1198.8 497.9 1197.9 499.6 1197.0 501.4 1196.1 503.2 1195.1 505.0 1194.2 506.7 1193.3 508.5 1192.4 510.3 1191.5 512.0 1190.5 513.8 1189.6 515.6 1188.7 517.4 1187.8 519.1 1186.8 520.9 1185.9 522.7 1185.0 524.4 1184.0 526.2 1183.1 528.0 1182.2 529.7 1181.2 531.5 1180.3 533.2 1179.3 535.0 1178.4 536.8 1177.5 538.5 1176.5 540.3 1175.6 542.0 1174.6 543.8 1173.7 545.6 1172.7 547.3 1171.8 549.1 1170.9 550.8 1169.9 552.6 1169.0 554.4 1168.0 556.1 1167.1 557.9 1166.1 559.6 1165.2 561.4 1164.2 563.2 1163.3 564.9 1162.3 566.7 1161.4 568.4 1160.5 570.2 1159.5 572.0 1158.6 573.7 1157.6 575.5 1156.7 577.2 1155.7 579.0 1154.8 580.8 1153.8 582.5 1152.9 584.3 1151.9 586.0 1151.0 587.8 1150.1 589.6 1149.1 591.3 1148.2 593.1 1147.2 594.8 1146.2 596.6 1145.3 598.4 1144.3 600.1 1143.4 601.9 1142.4 603.6 1141.5 605.4 1140.5 607.1 1139.5 608.9 1138.6 610.6 1137.6 612.4 1136.6 614.1 1135.7 615.9 1134.7 617.6 1133.7 619.4 1132.7 621.1 1131.7 622.9 1130.8 624.6 1129.8 626.4 1128.8 628.1 1127.8 629.9 1126.8 631.6 1125.8 633.3 1124.8 635.1 1123.8 636.8 1122.8 638.6 1121.8 640.3 1120.8 642.0 1119.8 643.8 1118.8 645.5 1117.8 647.2 1116.8 649.0 1115.8 650.7 1114.8 652.4 1113.8 654.2 1112.7 655.9 1111.7 657.6 1110.7 659.3 1109.7 661.1 1108.7 662.8 1107.6 664.5 1106.6 666.2 1105.6 668.0 1104.5 669.7 1103.5 671.4 1102.5 673.1 1101.4 674.8 1100.4 676.5 1099.3 678.3 1098.3 680.0 1097.2 681.7 1096.2 683.4 1095.1 685.1 1094.1 686.8 1093.0 688.5 1091.9 690.2 1090.8 691.9 1089.8 693.5 1088.7 695.2 1087.6 696.9 1086.5 698.6 1085.4 700.2 1084.3 701.9 1083.2 703.6 1082.0 705.2 1080.9 706.9 1079.8 708.5 1078.6 710.1 1077.4 711.8 1076.3 713.4 1075.1 715.0 1073.9 716.6 1072.7 718.2 1071.5 719.8 1070.3 721.3 1069.0 722.9 1067.8 724.5 1066.5 726.0 1065.3 727.5 1064.0 729.0 1062.7 730.6 1061.4 732.1 1060.1 733.5 1058.7 735.0 1057.4 736.5 1056.0 737.9 1054.6 739.4 1053.2 740.8 1051.8 742.2 1050.3 743.6 1048.9 745.0 1047.4 746.3 1045.9 747.7 1044.4 749.0 1042.9 750.3 1041.4 751.6 1039.9 752.9 1038.3 754.2 1036.7 755.5 1035.1 756.8 1033.5 758.0 1031.9 759.2 1030.3 760.4 1028.6 761.6 1026.9 762.7 1025.2 763.8 1023.5 764.9 1021.8 765.9 1020.0 766.9 1018.2 767.8 1016.4 768.7 1014.6 769.5 1012.7 770.3 1010.9 771.0 1009.0 771.6 1007.1 772.1 1005.2 772.6 1003.3 772.9 1001.4 773.2 999.5 773.4 997.6 773.5 995.6 773.4 993.7 773.3 991.8 773.1 989.9 772.7 988.1 772.3 986.2 771.7 984.4 771.1 982.7 770.4 980.9 769.5 979.2 768.6 977.6 767.6 975.9 766.5 974.4 765.3 972.8 764.1 971.4 762.8 969.9 761.5 968.5 760.0 967.2 758.6 965.9 757.1 964.6 755.5 963.3 753.9 962.1 752.2 961.0 750.6 959.8 748.9 958.7 747.2 957.6 745.4 956.5 743.6 955.4 741.9 954.4 740.1 953.3 738.3 952.3 736.5 951.2 734.6 950.2 732.8 949.1 731.0 948.0 729.2 946.9 727.4 945.8 725.6 944.7 723.9 943.5 722.2 942.3 720.5 941.1 718.8 939.8 717.2 938.5 715.6 937.1 714.1 935.8 712.6 934.3 711.2 932.9 709.9 931.4 708.7 929.8 707.6 928.2 706.6 926.6 705.7 925.0 705.0 923.3 704.4 921.6 703.9 919.9 703.6 918.1 703.4 916.4 703.4 914.7 703.6 912.9 704.0 911.2 704.5 909.5 705.1 907.8 705.9 906.2 706.8 904.6 707.8 903.0 708.9 901.4 710.1 899.9 711.3 898.4 712.7 897.0 714.1 895.5 715.6 894.2 717.1 892.8 718.7 891.5 720.3 890.2 721.9 888.9 723.5 887.7 725.2 886.5 726.9 885.3 728.6 884.2 730.4 883.1 732.1 881.9 733.9 880.9 735.6 879.8 737.4 878.7 739.1 877.7 740.9 876.7 742.7 875.6 744.5 874.6 746.2 873.7 748.0 872.7 749.8 871.7 751.6 870.8 753.4 869.8 755.2 868.9 757.0 868.0 758.8 867.1 760.6 866.2 762.4 865.3 764.2 864.4 766.0 863.5 767.8 862.6 769.6 861.8 771.4 860.9 773.2 860.1 775.0 859.2 776.8 858.4 778.6 857.5 780.5 856.7 782.3 855.9 784.1 855.1 785.9 854.2 787.7 853.4 789.5 852.6 791.4 851.8 793.2 850.9 795.0 850.1 796.8 849.3 798.6 848.5 800.4 847.7 802.3 846.9 804.1 846.0 805.9 845.2 807.7 844.4 809.5 843.6 811.3 842.8 813.2 842.0 815.0 841.2 816.8 840.4 818.6 839.6 820.5 838.8 822.3 838.0 824.1 837.2 826.0 836.5 827.8 835.7 829.7 834.9 831.5 834.2 833.3 833.4 835.2 832.7 837.0 831.9 838.9 831.2 840.8 830.4 842.6 829.7 844.5 829.0 846.3 828.2 848.2 827.5 850.0 826.8 851.9 826.1 853.8 825.3 855.6 824.6 857.5 823.9 859.4 823.2 861.2 822.5 863.1 821.7 865.0 821.0 866.8 820.3 868.7 819.6 870.6 818.9 872.5 818.2 874.3 817.5 876.2 816.7 878.1 816.0 879.9 815.3 881.8 814.6 883.7 813.9 885.5 813.2 887.4 812.5 889.3 811.8 891.2 811.1 893.0 810.4 894.9 809.6 896.8 808.9 898.6 808.2 900.5 807.5 902.4 806.8 904.2 806.1 906.1 805.4 908.0 804.6 909.9 803.9 911.7 803.2 913.6 802.5 915.4 801.7 917.3 801.0 919.2 800.3 921.0 799.5 922.9 798.8 924.7 798.0 926.6 797.3 928.4 796.5 930.3 795.7 932.1 795.0 934.0 794.2 935.8 793.4 937.7 792.6 939.5 791.7 941.3 790.9 943.1 790.1 944.9 789.2 946.8 788.4 948.6 787.5 950.4 786.7 952.2 785.8 954.0 784.9 955.8 784.0 957.6 783.1 959.4 782.2 961.2 781.3 962.9 780.4 964.7 779.5 966.5 778.6 968.3 777.7 970.1 776.8 971.9 775.9 973.7 775.0 975.5 774.1 977.3 773.2 979.1 772.3 980.9 771.4 982.6 770.4 984.4 769.5 986.2 768.5 987.9 767.5 989.6 766.4 991.3 765.3 993.0 764.2 994.7 763.1 996.4 761.9 998.0 760.7 999.6 759.5 1001.1 758.2 1002.7 756.9 1004.2 755.5 1005.6 754.1 1007.0 752.7 1008.4 751.2 1009.7 749.7 1011.0 748.1 1012.2 746.5 1013.3 744.8 1014.4 743.1 1015.4 741.4 1016.4 739.6 1017.3 737.8 1018.1 736.0 1018.9 734.2 1019.7 732.3 1020.3 730.4 1021.0 728.5 1021.6 726.6 1022.1 724.6 1022.6 722.7 1023.0 720.7 1023.5 718.7 1023.8 716.8 1024.2 714.8 1024.5 712.8 1024.8 710.8 1025.1 708.8 1025.3 706.8 1025.6 704.8 1025.8 702.8 1026.0 700.8 1026.2 698.8 1026.4 696.8 1026.6 694.8 1026.8 692.8 1026.9 690.8 1027.1 688.9 1027.3 686.9 1027.5 684.9 1027.6 682.9 1027.8 680.9 1027.9 678.9 1028.0 676.9 1028.2 674.9 1028.3 672.9 1028.4 670.9 1028.5 668.9 1028.6 666.9 1028.7 664.9 1028.8 662.9 1028.9 660.9 1028.9 658.9 1029.0 656.9 1029.1 654.9 1029.1 652.9 1029.2 650.9 1029.3 648.9 1029.3 646.9 1029.4 644.9 1029.4 642.9 1029.5 640.9 1029.5 638.9 1029.5 636.9 1029.6 634.9 1029.6 632.9 1029.6 630.9 1029.7 628.9 1029.7 626.9 1029.7 624.9 1029.8 622.9 1029.8 620.9 1029.8 618.9 1029.8 616.9 1029.8 614.9 1029.8 612.9 1029.8 610.9 1029.9 608.9 1029.9 606.9 1029.9 604.9 1029.9 602.9 1029.9 600.9 1029.9 598.9 1029.9 596.9 1029.9 594.9 1029.9 592.9 1029.9 590.9 1029.9 588.9 1029.8 586.9 1029.8 584.9 1029.8 582.9 1029.8 580.9 1029.8 578.9 1029.8 576.9 1029.8 574.9 1029.8 572.9 1029.8 570.9 1029.7 568.9 1029.7 566.9 1029.7 564.9 1029.7 562.9 1029.7 560.9 1029.7 558.9 1029.6 556.9 1029.6 554.9 1029.6 552.9 1029.6 550.9 1029.6 548.9 1029.6 546.8 1029.5 544.8 1029.5 542.8 1029.5 540.8 1029.5 538.8 1029.5 536.8 1029.5 534.8 1029.4 532.8 1029.4 530.8 1029.4 528.8 1029.4 526.8 1029.4 524.8 1029.3 522.8 1029.3 520.8 1029.3 518.8 1029.3 516.8 1029.3 514.8 1029.3 512.8 1029.2 510.8 1029.2 508.8 1029.2 506.8 1029.2 504.8 1029.2 502.8 1029.2 500.8 1029.1 498.8 1029.1 496.8 1029.1 494.8 1029.1 492.8 1029.1 490.8 1029.1 488.8 1029.1 486.8 1029.0 484.8 1029.0 482.8 1029.0 480.8 1029.0 478.8 1029.0 476.8 1029.0 474.8 1029.0 472.8 1029.0 470.8 1029.0 468.8 1029.0 466.8 1029.0 464.8 1028.9 462.8 1028.9 460.8 1028.9 458.8 1028.9 456.8 1028.9 454.8 1028.9 452.8 1028.9 450.8 1028.9 448.8 1028.9 446.8 1028.9 444.8 1028.9 442.8 1028.9 440.8 1028.9 438.8 1028.9 436.8 1028.9 434.8 1029.0 432.8 1029.0 430.8 1029.0 428.8 1029.0 426.8 1029.0 424.8 1029.0 422.8 1029.0 420.8 1029.0 418.8 1029.0 416.8 1029.0 414.8 1029.1 412.8 1029.1 410.8 1029.1 408.8 1029.1 406.8 1029.1 404.8 1029.1 402.8 1029.2 400.8 1029.2 398.8 1029.2 396.8 1029.2 394.8 1029.2 392.8 1029.3 390.8 1029.3 388.8 1029.3 386.8 1029.3 384.8 1029.3 382.8 1029.4 380.8 1029.4 378.8 1029.4 376.8 1029.4 374.8 1029.5 372.8 1029.5 370.8 1029.5 368.8 1029.5 366.8 1029.6 364.8 1029.6 362.8 1029.6 360.8 1029.6 358.8 1029.7 356.8 1029.7 354.8 1029.7 352.8 1029.8 350.8 1029.8 348.8 1029.8 346.8 1029.8 344.8 1029.9 342.8 1029.9 340.8 1029.9 338.8 1029.9 336.8 1030.0 334.8 1030.0 332.8 1030.0 330.8 1030.1 328.8 1030.1 326.8 1030.1 324.8 1030.1 322.8 1030.2 320.8 1030.2 318.8 1030.2 316.8 1030.3 314.8 1030.3 312.8 1030.3 310.8 1030.3 308.8 1030.4 306.8 1030.4 304.7 1030.4 302.7 1030.4 300.7 1030.5 298.7 1030.5 296.7 1030.5 294.7 1030.5 292.7 1030.6 290.7 1030.6 288.7 1030.6 286.7 1030.6 284.7 1030.6 282.7 1030.7 280.7 1030.7 278.7 1030.7 276.7 1030.7 274.7 1030.7 272.7 1030.8 270.7 1030.8 268.7 1030.8 266.7 1030.8 264.7 1030.8 262.7 1030.9 260.7 1030.9 258.7 1030.9 256.7 1030.9 254.7 1030.9 252.7 1030.9 250.7 1030.9 248.7 1031.0 246.7 1031.0 244.7 1031.0 242.7 1031.0 240.7 1031.0 238.7 1031.0 236.7 1031.0 234.7 1031.0 232.7 1031.0 230.7 1031.0 228.7 1031.0 226.7 1031.0 224.7 1031.1 222.7 1031.1 220.7 1031.1 218.7 1031.1 216.7 1031.1 214.7 1031.1 212.7 1031.1 210.7 1031.1 208.7 1031.1 206.7 1031.1 204.7 1031.1 202.7 1031.1 200.7 1031.1 198.7 1031.1 196.7 1031.1 194.7 1031.1 192.7 1031.1 190.7 1031.1 188.7 1031.1 186.7 1031.1 184.7 1031.1 182.7 1031.1 180.7 1031.1" stroke="#ff3333"/>
<path d="M181.0 1041.4L183.0 1041.4 185.0 1041.4 187.0 1041.4 189.0 1041.4 191.0 1041.3 193.0 1041.3 195.0 1041.3 197.0 1041.3 199.0 1041.3 201.0 1041.3 203.0 1041.3 205.0 1041.3 207.0 1041.3 209.0 1041.2 211.0 1041.2 213.0 1041.2 215.0 1041.2 217.0 1041.2 219.0 1041.2 221.0 1041.2 223.0 1041.2 225.0 1041.2 227.1 1041.2 229.1 1041.2 231.1 1041.2 233.1 1041.2 235.1 1041.2 237.1 1041.2 239.1 1041.2 241.1 1041.2 243.1 1041.2 245.1 1041.2 247.1 1041.2 249.1 1041.2 251.1 1041.2 253.1 1041.2 255.1 1041.2 257.1 1041.3 259.1 1041.3 261.1 1041.3 263.1 1041.3 265.1 1041.3 267.1 1041.3 269.1 1041.3 271.1 1041.3 273.1 1041.4 275.1 1041.4 277.1 1041.4 279.1 1041.4 281.1 1041.4 283.1 1041.4 285.1 1041.4 287.1 1041.4 289.1 1041.5 291.1 1041.5 293.1 1041.5 295.1 1041.5 297.1 1041.5 299.1 1041.5 301.1 1041.5 303.1 1041.5 305.1 1041.5 307.1 1041.5 309.1 1041.5 311.1 1041.6 313.1 1041.6 315.1 1041.6 317.1 1041.6 319.2 1041.6 321.2 1041.6 323.2 1041.6 325.2 1041.6 327.2 1041.6 329.2 1041.6 331.2 1041.6 333.2 1041.5 335.2 1041.5 337.2 1041.5 339.2 1041.5 341.2 1041.5 343.2 1041.5 345.2 1041.5 347.2 1041.5 349.2 1041.5 351.2 1041.5 353.2 1041.5 355.2 1041.4 357.2 1041.4 359.2 1041.4 361.2 1041.4 363.2 1041.4 365.2 1041.4 367.2 1041.4 369.2 1041.3 371.2 1041.3 373.2 1041.3 375.2 1041.3 377.2 1041.3 379.2 1041.2 381.2 1041.2 383.2 1041.2 385.2 1041.2 387.2 1041.1 389.2 1041.1 391.2 1041.1 393.2 1041.1 395.2 1041.0 397.2 1041.0 399.2 1041.0 401.2 1041.0 403.2 1040.9 405.2 1040.9 407.3 1040.9 409.3 1040.8 411.3 1040.8 413.3 1040.8 415.3 1040.8 417.3 1040.7 419.3 1040.7 421.3 1040.7 423.3 1040.6 425.3 1040.6 427.3 1040.5 429.3 1040.5 431.3 1040.5 433.3 1040.4 435.3 1040.4 437.3 1040.4 439.3 1040.3 441.3 1040.3 443.3 1040.3 445.3 1040.2 447.3 1040.2 449.3 1040.1 451.3 1040.1 453.3 1040.0 455.3 1040.0 457.3 1040.0 459.3 1039.9 461.3 1039.9 463.3 1039.8 465.3 1039.8 467.3 1039.7 469.3 1039.7 471.3 1039.6 473.3 1039.6 475.3 1039.5 477.3 1039.5 479.3 1039.4 481.3 1039.4 483.3 1039.3 485.3 1039.3 487.3 1039.2 489.3 1039.2 491.3 1039.1 493.3 1039.0 495.3 1039.0 497.3 1038.9 499.3 1038.9 501.3 1038.8 503.3 1038.7 505.3 1038.7 507.3 1038.6 509.3 1038.5 511.3 1038.5 513.4 1038.4 515.4 1038.3 517.4 1038.2 519.4 1038.2 521.4 1038.1 523.4 1038.0 525.4 1037.9 527.4 1037.8 529.4 1037.8 531.4 1037.7 533.4 1037.6 535.4 1037.5 537.4 1037.4 539.4 1037.3 541.4 1037.2 543.4 1037.1 545.4 1037.0 547.4 1036.9 549.4 1036.8 551.4 1036.7 553.3 1036.6 555.3 1036.5 557.3 1036.4 559.3 1036.3 561.3 1036.2 563.3 1036.1 565.3 1035.9 567.3 1035.8 569.3 1035.7 571.3 1035.6 573.3 1035.5 575.3 1035.3 577.3 1035.2 579.3 1035.1 581.3 1035.0 583.3 1034.8 585.3 1034.7 587.3 1034.6 589.3 1034.5 591.3 1034.3 593.3 1034.2 595.3 1034.1 597.3 1034.0 599.3 1033.8 601.3 1033.7 603.3 1033.6 605.3 1033.5 607.3 1033.4 609.3 1033.2 611.3 1033.1 613.3 1033.0 615.3 1032.9 617.3 1032.8 619.3 1032.7 621.3 1032.6 623.3 1032.5 625.3 1032.4 627.3 1032.3 629.3 1032.2 631.3 1032.1 633.3 1032.0 635.3 1031.9 637.3 1031.8 639.3 1031.8 641.3 1031.7 643.3 1031.6 645.3 1031.6 647.3 1031.5 649.3 1031.4 651.3 1031.4 653.3 1031.3 655.3 1031.3 657.3 1031.3 659.3 1031.2 661.3 1031.2 663.3 1031.1 665.3 1031.1 667.3 1031.1 669.3 1031.1 671.3 1031.1 673.3 1031.0 675.3 1031.0 677.3 1031.0 679.3 1031.0 681.3 1031.0 683.3 1031.0 685.3 1031.0 687.4 1031.0 689.4 1031.0 691.4 1031.1 693.4 1031.1 695.4 1031.1 697.4 1031.1 699.4 1031.1 701.4 1031.2 703.4 1031.2 705.5 1031.2 707.5 1031.3 709.5 1031.3 711.5 1031.3 713.5 1031.4 715.5 1031.4 717.6 1031.5 719.6 1031.5 721.6 1031.5 723.6 1031.6 725.6 1031.6 727.7 1031.6 729.7 1031.7 731.7 1031.7 733.7 1031.7 735.7 1031.8 737.8 1031.8 739.8 1031.8 741.8 1031.8 743.8 1031.8 745.8 1031.9 747.9 1031.9 749.9 1031.9 751.9 1031.9 753.9 1031.8 755.9 1031.8 757.9 1031.8 760.0 1031.8 762.0 1031.7 764.0 1031.7 766.0 1031.6 768.0 1031.6 770.0 1031.5 772.1 1031.4 774.1 1031.3 776.1 1031.2 778.1 1031.1 780.1 1030.9 782.1 1030.7 784.0 1030.5 786.0 1030.3 788.0 1030.1 790.0 1029.8 791.9 1029.5 793.9 1029.2 795.8 1028.8 797.7 1028.4 799.7 1028.0 801.6 1027.6 803.5 1027.1 805.4 1026.6 807.3 1026.0 809.1 1025.4 811.0 1024.8 812.8 1024.1 814.6 1023.4 816.4 1022.7 818.2 1021.9 820.0 1021.0 821.7 1020.2 823.5 1019.2 825.2 1018.3 826.9 1017.3 828.6 1016.2 830.2 1015.2 831.8 1014.1 833.5 1012.9 835.1 1011.8 836.7 1010.6 838.2 1009.4 839.8 1008.1 841.3 1006.9 842.9 1005.6 844.4 1004.3 845.9 1002.9 847.4 1001.6 848.9 1000.3 850.3 998.9 851.8 997.5 853.3 996.1 854.7 994.7 856.2 993.3 857.6 991.9 859.0 990.5 860.5 989.1 861.9 987.6 863.3 986.2 864.7 984.8 866.1 983.3 867.6 981.9 869.0 980.5 870.4 979.0 871.8 977.6 873.2 976.1 874.6 974.7 876.0 973.3 877.4 971.8 878.9 970.4 880.3 969.0 881.7 967.6 883.1 966.2 884.5 964.7 886.0 963.3 887.4 961.9 888.8 960.5 890.3 959.2 891.7 957.8 893.2 956.4 894.7 955.1 896.1 953.7 897.6 952.4 899.1 951.1 900.6 949.8 902.2 948.5 903.7 947.2 905.2 946.0 906.8 944.8 908.4 943.5 910.0 942.4 911.6 941.2 913.2 940.1 914.8 939.0 916.5 937.9 918.2 936.8 919.9 935.8 921.6 934.7 923.3 933.7 925.0 932.8 926.7 931.8 928.5 930.8 930.2 929.9 932.0 929.0 933.8 928.1 935.6 927.2 937.4 926.4 939.2 925.5 941.0 924.7 942.9 923.9 944.7 923.1 946.5 922.3 948.4 921.5 950.2 920.8 952.1 920.0 954.0 919.3 955.8 918.5 957.7 917.8 959.6 917.1 961.4 916.4 963.3 915.7 965.2 915.0 967.1 914.2 969.0 913.5 970.8 912.8 972.7 912.1 974.6 911.4 976.4 910.7 978.3 909.9 980.2 909.2 982.0 908.4 983.9 907.7 985.7 906.9 987.6 906.1 989.4 905.3 991.2 904.5 993.1 903.7 994.9 902.8 996.7 902.0 998.5 901.1 1000.3 900.2 1002.0 899.3 1003.8 898.4 1005.6 897.4 1007.3 896.5 1009.0 895.5 1010.8 894.5 1012.5 893.5 1014.2 892.5 1015.9 891.4 1017.6 890.4 1019.2 889.3 1020.9 888.2 1022.6 887.1 1024.2 886.0 1025.9 884.8 1027.5 883.7 1029.1 882.5 1030.7 881.3 1032.3 880.1 1033.9 878.9 1035.5 877.7 1037.0 876.4 1038.6 875.2 1040.1 873.9 1041.7 872.6 1043.2 871.4 1044.7 870.0 1046.2 868.7 1047.7 867.4 1049.2 866.1 1050.7 864.7 1052.1 863.4 1053.6 862.0 1055.0 860.6 1056.4 859.2 1057.9 857.8 1059.3 856.4 1060.7 855.0 1062.1 853.5 1063.5 852.1 1064.9 850.6 1066.2 849.2 1067.6 847.7 1068.9 846.2 1070.3 844.7 1071.6 843.2 1072.9 841.7 1074.2 840.2 1075.5 838.7 1076.8 837.2 1078.1 835.6 1079.4 834.1 1080.7 832.5 1081.9 831.0 1083.2 829.4 1084.4 827.9 1085.7 826.3 1086.9 824.7 1088.1 823.1 1089.4 821.5 1090.6 820.0 1091.8 818.4 1093.0 816.8 1094.2 815.1 1095.4 813.5 1096.6 811.9 1097.8 810.3 1098.9 808.7 1100.1 807.0 1101.3 805.4 1102.4 803.8 1103.6 802.1 1104.7 800.5 1105.9 798.8 1107.0 797.2 1108.1 795.5 1109.3 793.9 1110.4 792.2 1111.5 790.6 1112.6 788.9 1113.7 787.2 1114.9 785.6 1116.0 783.9 1117.1 782.2 1118.2 780.6 1119.3 778.9 1120.4 777.2 1121.5 775.5 1122.6 773.9 1123.7 772.2 1124.8 770.5 1125.9 768.8 1126.9 767.1 1128.0 765.5 1129.1 763.8 1130.2 762.1 1131.3 760.4 1132.4 758.7 1133.4 757.0 1134.5 755.3 1135.6 753.6 1136.7 752.0 1137.7 750.3 1138.8 748.6 1139.9 746.9 1141.0 745.2 1142.0 743.5 1143.1 741.8 1144.1 740.1 1145.2 738.4 1146.3 736.7 1147.3 735.0 1148.4 733.3 1149.4 731.6 1150.5 729.9 1151.5 728.2 1152.6 726.5 1153.6 724.8 1154.7 723.1 1155.7 721.3 1156.7 719.6 1157.8 717.9 1158.8 716.2 1159.8 714.5 1160.8 712.8 1161.8 711.0 1162.8 709.3 1163.9 707.6 1164.9 705.8 1165.9 704.1 1166.9 702.4 1167.9 700.6 1168.8 698.9 1169.8 697.2 1170.8 695.4 1171.8 693.7 1172.8 691.9 1173.8 690.2 1174.7 688.4 1175.7 686.7 1176.7 684.9 1177.6 683.2 1178.6 681.4 1179.6 679.7 1180.5 677.9 1181.5 676.2 1182.4 674.4 1183.4 672.6 1184.3 670.9 1185.3 669.1 1186.2 667.3 1187.1 665.6 1188.1 663.8 1189.0 662.0 1189.9 660.2 1190.9 658.5 1191.8 656.7 1192.7 654.9 1193.6 653.1 1194.5 651.4 1195.4 649.6 1196.4 647.8 1197.3 646.0 1198.2 644.2 1199.1 642.4 1200.0 640.7 1200.9 638.9 1201.8 637.1 1202.7 635.3 1203.6 633.5 1204.5 631.7 1205.4 629.9 1206.3 628.1 1207.2 626.3 1208.0 624.5 1208.9 622.8 1209.8 621.0 1210.7 619.2 1211.6 617.4 1212.5 615.6 1213.4 613.8 1214.3 612.0 1215.1 610.2 1216.0 608.4 1216.9 606.6 1217.8 604.8 1218.7 603.0 1219.6 601.2 1220.4 599.4 1221.3 597.6 1222.2 595.8 1223.1 594.0 1224.0 592.2 1224.9 590.4 1225.8 588.6 1226.6 586.8 1227.5 585.0 1228.4 583.2 1229.3 581.5 1230.2 579.7 1231.1 577.9 1231.9 576.1 1232.8 574.3 1233.7 572.5 1234.6 570.7 1235.5 568.9 1236.4 567.1 1237.3 565.3 1238.2 563.5 1239.0 561.7 1239.9 559.9 1240.8 558.1 1241.7 556.3 1242.6 554.6 1243.5 552.8 1244.4 551.0 1245.3 549.2 1246.2 547.4 1247.0 545.6 1247.9 543.8 1248.8 542.0 1249.7 540.2 1250.6 538.4 1251.5 536.6 1252.4 534.9 1253.2 533.1 1254.1 531.3 1255.0 529.5 1255.9 527.7 1256.7 525.9 1257.6 524.1 1258.4 522.3 1259.3 520.5 1260.1 518.6 1261.0 516.8 1261.8 515.0 1262.6 513.2 1263.5 511.4 1264.3 509.6 1265.1 507.8 1265.9 505.9 1266.7 504.1 1267.5 502.3 1268.3 500.4 1269.1 498.6 1269.9 496.8 1270.6 494.9 1271.4 493.1 1272.2 491.2 1272.9 489.4 1273.7 487.5 1274.4 485.7 1275.2 483.8 1275.9 482.0 1276.6 480.1 1277.4 478.2 1278.1 476.4 1278.8 474.5 1279.5 472.6 1280.2 470.8 1280.9 468.9 1281.7 467.0 1282.4 465.2 1283.1 463.3 1283.8 461.4 1284.5 459.6 1285.2 457.7 1285.9 455.8 1286.6 453.9 1287.3 452.1 1288.0 450.2 1288.7 448.3 1289.4 446.5 1290.1 444.6 1290.9 442.7 1291.6 440.8 1292.3 439.0 1293.0 437.1 1293.7 435.2 1294.4 433.4 1295.2 431.5 1295.9 429.6 1296.6 427.8 1297.3 425.9 1298.1 424.1 1298.8 422.2 1299.6 420.3 1300.3 418.5 1301.1 416.6 1301.8 414.8 1302.6 412.9 1303.3 411.1 1304.1 409.2 1304.9 407.4 1305.6 405.5 1306.4 403.7 1307.2 401.8 1308.0 400.0 1308.7 398.2 1309.5 396.3 1310.3 394.5 1311.1 392.6 1311.9 390.8 1312.7 389.0 1313.5 387.1 1314.3 385.3 1315.0 383.4 1315.8 381.6 1316.6 379.8 1317.4 377.9 1318.2 376.1 1319.0 374.3 1319.8 372.4 1320.6 370.6 1321.4 368.7 1322.2 366.9 1322.9 365.1 1323.7 363.2 1324.5 361.4 1325.3 359.5 1326.1 357.7 1326.8 355.8 1327.6 354.0 1328.4 352.1 1329.1 350.3 1329.9 348.4 1330.7 346.6 1331.4 344.7 1332.2 342.9 1332.9 341.0 1333.7 339.2 1334.4 337.3 1335.2 335.5 1335.9 333.6 1336.6 331.7 1337.3 329.9 1338.1 328.0 1338.8 326.1 1339.5 324.3 1340.2 322.4 1340.9 320.5 1341.6 318.6 1342.3 316.8 1342.9 314.9 1343.6 313.0 1344.3 311.1 1344.9 309.2 1345.6 307.3 1346.2 305.4 1346.9 303.6 1347.5 301.7 1348.2 299.8 1348.8 297.9 1349.4 296.0 1350.1 294.1 1350.7 292.2 1351.3 290.3 1351.9 288.4 1352.5 286.4 1353.1 284.5 1353.7 282.6 1354.3 280.7 1354.9 278.8 1355.5 276.9 1356.0 275.0 1356.6 273.1 1357.2 271.1 1357.8 269.2 1358.4 267.3 1358.9 265.4 1359.5 263.5 1360.1 261.6 1360.6 259.6 1361.2 257.7 1361.8 255.8 1362.3 253.9 1362.9 252.0 1363.5 250.0 1364.0 248.1 1364.6 246.2 1365.2 244.3 1365.7 242.3 1366.3 240.4 1366.8 238.5 1367.4 236.6 1367.9 234.7 1368.5 232.7 1369.0 230.8 1369.6 228.9 1370.2 227.0 1370.7 225.0 1371.2 223.1 1371.8 221.2 1372.3 219.3 1372.9 217.3 1373.4 215.4 1374.0 213.5 1374.5 211.6 1375.0 209.6 1375.5 207.7 1376.0 205.8 1376.6 203.9 1377.1 201.9 1377.6 200.0 1378.0 198.1 1378.5 196.1 1379.0 194.2 1379.4 192.2 1379.9 190.3 1380.4 188.3 1380.8 186.4 1381.2 184.4 1381.7 182.5 1382.1 180.5 1382.5 178.6 1382.9 176.6 1383.4 174.7 1383.8 172.7 1384.2 170.8 1384.6 168.8 1383.4 170.4 1382.2 172.0 1381.0 173.6 1379.8 175.2 1378.6 176.8 1377.4 178.4 1376.2 180.0 1375.1 181.6 1373.9 183.2 1372.7 184.8 1371.6 186.5 1370.4 188.1 1369.3 189.7 1368.2 191.4 1367.0 193.0 1365.9 194.7 1364.8 196.3 1363.7 198.0 1362.6 199.7 1361.5 201.4 1360.4 203.0 1359.4 204.7 1358.3 206.4 1357.2 208.1 1356.2 209.8 1355.1 211.5 1354.1 213.2 1353.0 214.9 1352.0 216.6 1351.0 218.3 1350.0 220.0 1348.9 221.8 1347.9 223.5 1346.9 225.2 1345.9 226.9 1344.9 228.7 1343.9 230.4 1342.9 232.1 1341.9 233.9 1340.9 235.6 1340.0 237.4 1339.0 239.1 1338.0 240.8 1337.0 242.6 1336.0 244.3 1335.0 246.1 1334.1 247.8 1333.1 249.5 1332.1 251.3 1331.1 253.0 1330.1 254.8 1329.2 256.5 1328.2 258.3 1327.2 260.0 1326.2 261.7 1325.2 263.5 1324.2 265.2 1323.3 267.0 1322.3 268.7 1321.3 270.4 1320.3 272.2 1319.3 273.9 1318.3 275.7 1317.4 277.4 1316.4 279.1 1315.4 280.9 1314.4 282.6 1313.4 284.4 1312.4 286.1 1311.4 287.8 1310.5 289.6 1309.5 291.3 1308.5 293.1 1307.5 294.8 1306.5 296.5 1305.5 298.3 1304.6 300.0 1303.6 301.8 1302.6 303.5 1301.6 305.3 1300.7 307.0 1299.7 308.7 1298.7 310.5 1297.7 312.2 1296.8 314.0 1295.8 315.7 1294.8 317.5 1293.9 319.2 1292.9 321.0 1292.0 322.8 1291.0 324.5 1290.1 326.3 1289.1 328.0 1288.2 329.8 1287.2 331.6 1286.3 333.3 1285.4 335.1 1284.4 336.9 1283.5 338.6 1282.6 340.4 1281.6 342.2 1280.7 344.0 1279.8 345.7 1278.9 347.5 1278.0 349.3 1277.1 351.1 1276.1 352.8 1275.2 354.6 1274.3 356.4 1273.4 358.2 1272.5 360.0 1271.6 361.7 1270.7 363.5 1269.8 365.3 1268.9 367.1 1268.0 368.9 1267.1 370.7 1266.2 372.5 1265.3 374.2 1264.4 376.0 1263.5 377.8 1262.6 379.6 1261.7 381.4 1260.8 383.2 1259.9 385.0 1259.0 386.7 1258.1 388.5 1257.2 390.3 1256.3 392.1 1255.4 393.9 1254.5 395.6 1253.6 397.4 1252.7 399.2 1251.8 401.0 1250.9 402.8 1250.0 404.5 1249.0 406.3 1248.1 408.1 1247.2 409.9 1246.3 411.6 1245.4 413.4 1244.5 415.2 1243.5 416.9 1242.6 418.7 1241.7 420.5 1240.7 422.2 1239.8 424.0 1238.9 425.7 1237.9 427.5 1237.0 429.3 1236.1 431.0 1235.1 432.8 1234.2 434.5 1233.2 436.3 1232.3 438.0 1231.3 439.8 1230.4 441.5 1229.4 443.3 1228.5 445.0 1227.5 446.8 1226.6 448.5 1225.6 450.3 1224.7 452.0 1223.7 453.8 1222.8 455.5 1221.8 457.3 1220.9 459.1 1219.9 460.8 1219.0 462.6 1218.0 464.3 1217.1 466.1 1216.1 467.8 1215.2 469.6 1214.3 471.4 1213.3 473.1 1212.4 474.9 1211.4 476.6 1210.5 478.4 1209.6 480.2 1208.7 481.9 1207.7 483.7 1206.8 485.5 1205.9 487.2 1204.9 489.0 1204.0 490.8 1203.1 492.5 1202.2 494.3 1201.3 496.1 1200.3 497.9 1199.4 499.6 1198.5 501.4 1197.6 503.2 1196.6 504.9 1195.7 506.7 1194.8 508.5 1193.9 510.2 1192.9 512.0 1192.0 513.8 1191.1 515.6 1190.1 517.3 1189.2 519.1 1188.3 520.9 1187.3 522.6 1186.4 524.4 1185.5 526.1 1184.5 527.9 1183.6 529.7 1182.7 531.4 1181.7 533.2 1180.8 534.9 1179.8 536.7 1178.9 538.5 1177.9 540.2 1177.0 542.0 1176.0 543.7 1175.1 545.5 1174.1 547.2 1173.2 549.0 1172.3 550.8 1171.3 552.5 1170.4 554.3 1169.4 556.0 1168.5 557.8 1167.5 559.6 1166.6 561.3 1165.6 563.1 1164.7 564.8 1163.7 566.6 1162.8 568.3 1161.8 570.1 1160.9 571.9 1159.9 573.6 1159.0 575.4 1158.0 577.1 1157.1 578.9 1156.1 580.7 1155.2 582.4 1154.2 584.2 1153.3 585.9 1152.3 587.7 1151.4 589.4 1150.4 591.2 1149.5 593.0 1148.5 594.7 1147.5 596.5 1146.6 598.2 1145.6 600.0 1144.7 601.7 1143.7 603.5 1142.7 605.2 1141.8 607.0 1140.8 608.7 1139.8 610.5 1138.8 612.2 1137.9 614.0 1136.9 615.7 1135.9 617.5 1134.9 619.2 1133.9 620.9 1133.0 622.7 1132.0 624.4 1131.0 626.2 1130.0 627.9 1129.0 629.6 1128.0 631.4 1127.0 633.1 1126.0 634.8 1125.0 636.6 1124.0 638.3 1123.0 640.0 1121.9 641.7 1120.9 643.5 1119.9 645.2 1118.9 646.9 1117.9 648.6 1116.9 650.4 1115.8 652.1 1114.8 653.8 1113.8 655.5 1112.7 657.2 1111.7 659.0 1110.7 660.7 1109.6 662.4 1108.6 664.1 1107.6 665.8 1106.5 667.5 1105.5 669.2 1104.4 670.9 1103.4 672.6 1102.3 674.3 1101.3 676.0 1100.2 677.7 1099.2 679.4 1098.1 681.1 1097.0 682.8 1096.0 684.5 1094.9 686.2 1093.8 687.9 1092.7 689.5 1091.6 691.2 1090.5 692.9 1089.4 694.6 1088.3 696.2 1087.2 697.9 1086.1 699.6 1085.0 701.2 1083.9 702.9 1082.8 704.5 1081.6 706.2 1080.5 707.8 1079.3 709.4 1078.2 711.1 1077.0 712.7 1075.8 714.3 1074.7 715.9 1073.5 717.5 1072.3 719.1 1071.1 720.7 1069.9 722.3 1068.7 723.9 1067.4 725.5 1066.2 727.1 1065.0 728.6 1063.7 730.2 1062.4 731.7 1061.2 733.3 1059.9 734.8 1058.6 736.3 1057.3 737.9 1056.0 739.4 1054.7 740.9 1053.3 742.4 1052.0 743.9 1050.6 745.4 1049.3 746.8 1047.9 748.3 1046.5 749.7 1045.1 751.2 1043.6 752.6 1042.2 754.0 1040.7 755.4 1039.2 756.7 1037.7 758.1 1036.2 759.4 1034.6 760.7 1033.0 762.0 1031.4 763.2 1029.8 764.4 1028.2 765.6 1026.5 766.7 1024.8 767.8 1023.1 768.8 1021.4 769.8 1019.6 770.8 1017.8 771.7 1016.0 772.5 1014.2 773.3 1012.3 774.0 1010.5 774.7 1008.6 775.3 1006.7 775.7 1004.8 776.2 1002.8 776.5 1000.9 776.7 998.9 776.9 997.0 776.9 995.0 776.9 993.1 776.7 991.2 776.5 989.2 776.2 987.3 775.8 985.5 775.3 983.6 774.7 981.8 774.0 980.0 773.2 978.2 772.4 976.5 771.5 974.9 770.4 973.2 769.4 971.6 768.2 970.1 767.0 968.6 765.7 967.2 764.3 965.8 762.9 964.4 761.5 963.1 760.0 961.9 758.4 960.6 756.8 959.4 755.2 958.3 753.5 957.2 751.8 956.1 750.0 955.0 748.3 954.0 746.5 953.0 744.7 952.0 742.8 951.0 741.0 950.0 739.1 949.0 737.3 948.1 735.4 947.1 733.6 946.1 731.7 945.0 729.9 944.0 728.1 942.9 726.3 941.8 724.6 940.6 722.8 939.5 721.2 938.2 719.5 937.0 718.0 935.6 716.5 934.3 715.0 932.9 713.7 931.4 712.4 929.9 711.3 928.3 710.3 926.8 709.3 925.1 708.5 923.5 707.9 921.8 707.4 920.1 707.0 918.3 706.9 916.6 706.9 914.9 707.0 913.1 707.3 911.4 707.8 909.7 708.4 908.0 709.1 906.3 710.0 904.7 711.0 903.0 712.0 901.4 713.2 899.9 714.4 898.4 715.7 896.9 717.1 895.4 718.5 894.0 720.0 892.6 721.6 891.3 723.1 890.0 724.7 888.7 726.4 887.4 728.0 886.2 729.7 885.0 731.4 883.8 733.1 882.6 734.8 881.5 736.5 880.4 738.2 879.3 740.0 878.2 741.7 877.1 743.5 876.1 745.2 875.0 747.0 874.0 748.8 873.0 750.5 872.0 752.3 871.0 754.1 870.0 755.9 869.1 757.6 868.1 759.4 867.2 761.2 866.3 763.0 865.4 764.8 864.4 766.6 863.6 768.4 862.7 770.2 861.8 772.0 860.9 773.8 860.0 775.6 859.2 777.4 858.3 779.2 857.5 781.0 856.6 782.8 855.8 784.6 854.9 786.5 854.1 788.3 853.3 790.1 852.4 791.9 851.6 793.7 850.8 795.5 850.0 797.3 849.1 799.1 848.3 801.0 847.5 802.8 846.7 804.6 845.9 806.4 845.0 808.2 844.2 810.0 843.4 811.8 842.6 813.7 841.8 815.5 841.0 817.3 840.2 819.1 839.4 821.0 838.6 822.8 837.9 824.6 837.1 826.5 836.3 828.3 835.6 830.1 834.8 832.0 834.1 833.8 833.3 835.7 832.6 837.6 831.9 839.4 831.1 841.3 830.4 843.1 829.7 845.0 829.0 846.9 828.3 848.7 827.6 850.6 826.8 852.5 826.1 854.3 825.4 856.2 824.7 858.1 824.0 860.0 823.3 861.8 822.6 863.7 821.9 865.6 821.2 867.4 820.5 869.3 819.8 871.2 819.1 873.1 818.4 874.9 817.7 876.8 817.0 878.7 816.3 880.5 815.6 882.4 814.9 884.3 814.2 886.2 813.5 888.0 812.7 889.9 812.0 891.8 811.3 893.6 810.6 895.5 809.9 897.4 809.2 899.3 808.5 901.1 807.8 903.0 807.1 904.9 806.3 906.7 805.6 908.6 804.9 910.5 804.2 912.3 803.5 914.2 802.7 916.1 802.0 917.9 801.3 919.8 800.5 921.6 799.8 923.5 799.0 925.4 798.3 927.2 797.5 929.1 796.8 930.9 796.0 932.7 795.2 934.6 794.4 936.4 793.6 938.3 792.8 940.1 792.0 941.9 791.2 943.7 790.3 945.5 789.5 947.4 788.6 949.2 787.8 951.0 786.9 952.8 786.0 954.6 785.2 956.4 784.3 958.2 783.4 960.0 782.5 961.8 781.6 963.5 780.7 965.3 779.8 967.1 778.9 968.9 778.0 970.7 777.1 972.5 776.2 974.3 775.3 976.1 774.4 977.9 773.5 979.7 772.5 981.4 771.6 983.2 770.7 985.0 769.7 986.7 768.7 988.5 767.7 990.2 766.7 991.9 765.6 993.6 764.5 995.3 763.3 996.9 762.2 998.6 761.0 1000.2 759.7 1001.7 758.5 1003.2 757.1 1004.7 755.8 1006.2 754.4 1007.6 752.9 1009.0 751.4 1010.3 749.9 1011.5 748.3 1012.7 746.7 1013.9 745.0 1014.9 743.3 1016.0 741.6 1016.9 739.8 1017.8 738.0 1018.7 736.2 1019.5 734.4 1020.2 732.5 1020.9 730.6 1021.5 728.7 1022.1 726.8 1022.6 724.8 1023.1 722.9 1023.6 720.9 1024.0 718.9 1024.4 717.0 1024.7 715.0 1025.0 713.0 1025.3 711.0 1025.6 709.0 1025.8 707.0 1026.1 705.0 1026.3 703.0 1026.5 701.0 1026.7 699.0 1026.9 697.0 1027.1 695.1 1027.3 693.1 1027.5 691.1 1027.6 689.1 1027.8 687.1 1028.0 685.1 1028.1 683.1 1028.3 681.1 1028.4 679.1 1028.5 677.1 1028.7 675.1 1028.8 673.1 1028.9 671.1 1029.0 669.1 1029.1 667.1 1029.2 665.1 1029.2 663.1 1029.3 661.1 1029.4 659.1 1029.4 657.1 1029.5 655.1 1029.5 653.1 1029.5 651.1 1029.6 649.1 1029.6 647.1 1029.6 645.1 1029.6 643.1 1029.6 641.1 1029.7 639.1 1029.7 637.1 1029.7 635.1 1029.7 633.1 1029.7 631.1 1029.7 629.1 1029.7 627.1 1029.7 625.1 1029.8 623.1 1029.8 621.1 1029.8 619.1 1029.8 617.1 1029.8 615.1 1029.8 613.1 1029.8 611.1 1029.8 609.1 1029.8 607.1 1029.8 605.1 1029.9 603.1 1029.9 601.1 1029.9 599.1 1029.9 597.1 1029.9 595.1 1029.9 593.1 1029.9 591.1 1029.9 589.1 1029.9 587.1 1029.9 585.1 1029.9 583.1 1029.9 581.1 1029.9 579.1 1029.9 577.1 1029.9 575.1 1029.9 573.1 1029.9 571.1 1029.9 569.1 1029.9 567.1 1029.9 565.1 1029.9 563.1 1029.9 561.1 1029.9 559.1 1029.9 557.1 1029.9 555.1 1029.9 553.1 1029.9 551.1 1029.9 549.1 1029.9 547.1 1029.8 545.1 1029.8 543.1 1029.8 541.1 1029.8 539.1 1029.8 537.1 1029.8 535.1 1029.8 533.1 1029.8 531.1 1029.8 529.1 1029.8 527.1 1029.8 525.1 1029.7 523.1 1029.7 521.1 1029.7 519.1 1029.7 517.1 1029.7 515.1 1029.7 513.1 1029.7 511.1 1029.7 509.1 1029.7 507.1 1029.6 505.1 1029.6 503.1 1029.6 501.1 1029.6 499.1 1029.6 497.1 1029.6 495.1 1029.6 493.1 1029.6 491.1 1029.6 489.1 1029.5 487.1 1029.5 485.1 1029.5 483.1 1029.5 481.1 1029.5 479.1 1029.5 477.1 1029.5 475.1 1029.5 473.1 1029.5 471.1 1029.5 469.1 1029.5 467.1 1029.5 465.1 1029.5 463.1 1029.5 461.1 1029.5 459.1 1029.4 457.1 1029.4 455.1 1029.4 453.1 1029.4 451.1 1029.4 449.1 1029.4 447.1 1029.4 445.1 1029.4 443.1 1029.5 441.1 1029.5 439.1 1029.5 437.1 1029.5 435.1 1029.5 433.1 1029.5 431.1 1029.5 429.1 1029.5 427.1 1029.5 425.1 1029.5 423.0 1029.5 421.0 1029.5 419.0 1029.6 417.0 1029.6 415.0 1029.6 413.0 1029.6 411.0 1029.6 409.0 1029.6 407.0 1029.6 405.0 1029.7 403.0 1029.7 401.0 1029.7 399.0 1029.7 397.0 1029.7 395.0 1029.8 393.0 1029.8 391.0 1029.8 389.0 1029.8 387.0 1029.8 385.0 1029.9 383.0 1029.9 381.0 1029.9 379.0 1029.9 377.0 1030.0 375.0 1030.0 373.0 1030.0 371.0 1030.0 369.0 1030.1 367.0 1030.1 365.0 1030.1 363.0 1030.1 361.0 1030.2 359.0 1030.2 357.0 1030.2 355.0 1030.2 353.0 1030.3 351.0 1030.3 349.0 1030.3 347.0 1030.3 345.0 1030.4 343.0 1030.4 341.0 1030.4 339.0 1030.5 337.0 1030.5 335.0 1030.5 333.0 1030.5 331.0 1030.6 329.0 1030.6 327.0 1030.6 325.0 1030.7 323.0 1030.7 321.0 1030.7 319.0 1030.7 317.0 1030.8 315.0 1030.8 313.0 1030.8 311.0 1030.8 309.0 1030.9 307.0 1030.9 305.0 1030.9 303.0 1030.9 301.0 1031.0 299.0 1031.0 297.0 1031.0 295.0 1031.0 293.0 1031.1 291.0 1031.1 289.0 1031.1 287.0 1031.1 285.0 1031.1 283.0 1031.2 281.0 1031.2 279.0 1031.2 277.0 1031.2 275.0 1031.2 273.0 1031.3 271.0 1031.3 269.0 1031.3 267.0 1031.3 265.0 1031.3 263.0 1031.4 261.0 1031.4 259.0 1031.4 257.0 1031.4 255.0 1031.4 253.0 1031.4 251.0 1031.4 249.0 1031.5 247.0 1031.5 245.0 1031.5 243.0 1031.5 241.0 1031.5 239.0 1031.5 237.0 1031.5 235.0 1031.5 233.0 1031.5 231.0 1031.5 229.0 1031.5 227.0 1031.5 225.0 1031.6 223.0 1031.6 221.0 1031.6 219.0 1031.6 217.0 1031.6 215.0 1031.6 213.0 1031.6 211.0 1031.6 209.0 1031.6 207.0 1031.6 205.0 1031.6 203.0 1031.6 201.0 1031.6 199.0 1031.6 197.0 1031.6 195.0 1031.6 193.0 1031.6 191.0 1031.6 189.0 1031.6 187.0 1031.6 185.0 1031.6 183.0 1031.6 181.0 1031.6" stroke="#0066dd"/>
<path d="M181.0 1039.2L183.0 1039.1 185.0 1039.0 187.0 1038.9 189.0 1038.8 191.0 1038.7 193.0 1038.6 195.0 1038.5 197.0 1038.4 199.0 1038.4 201.0 1038.3 203.0 1038.2 205.0 1038.1 207.0 1038.0 209.0 1037.9 211.0 1037.8 213.0 1037.7 215.0 1037.6 217.0 1037.5 219.0 1037.4 221.0 1037.3 223.0 1037.3 225.0 1037.2 227.0 1037.1 229.0 1037.0 231.0 1036.9 233.0 1036.8 235.0 1036.7 237.0 1036.7 239.0 1036.6 241.0 1036.5 243.0 1036.4 245.0 1036.3 247.0 1036.3 249.0 1036.2 251.0 1036.1 253.0 1036.0 255.0 1036.0 257.0 1035.9 259.0 1035.8 261.0 1035.7 263.0 1035.7 265.0 1035.6 267.0 1035.5 269.0 1035.5 271.0 1035.4 273.0 1035.3 275.0 1035.3 277.0 1035.2 279.0 1035.1 281.0 1035.1 283.0 1035.0 285.0 1034.9 287.0 1034.9 289.0 1034.8 291.0 1034.8 293.0 1034.7 295.0 1034.7 297.0 1034.6 299.0 1034.6 301.0 1034.5 303.0 1034.4 305.0 1034.4 307.0 1034.3 309.0 1034.3 311.1 1034.2 313.1 1034.2 315.1 1034.1 317.1 1034.1 319.1 1034.1 321.1 1034.0 323.1 1034.0 325.1 1033.9 327.1 1033.9 329.1 1033.8 331.1 1033.8 333.1 1033.8 335.1 1033.7 337.1 1033.7 339.1 1033.6 341.1 1033.6 343.1 1033.6 345.1 1033.5 347.1 1033.5 349.1 1033.5 351.1 1033.4 353.1 1033.4 355.1 1033.4 357.1 1033.3 359.1 1033.3 361.1 1033.3 363.1 1033.3 365.1 1033.2 367.1 1033.2 369.1 1033.2 371.1 1033.1 373.1 1033.1 375.1 1033.1 377.1 1033.1 379.1 1033.1 381.1 1033.0 383.1 1033.0 385.1 1033.0 387.1 1033.0 389.1 1032.9 391.1 1032.9 393.1 1032.9 395.1 1032.9 397.1 1032.9 399.1 1032.8 401.1 1032.8 403.1 1032.8 405.1 1032.8 407.2 1032.8 409.2 1032.8 411.2 1032.8 413.2 1032.7 415.2 1032.7 417.2 1032.7 419.2 1032.7 421.2 1032.7 423.2 1032.7 425.2 1032.7 427.2 1032.6 429.2 1032.6 431.2 1032.6 433.2 1032.6 435.2 1032.6 437.2 1032.6 439.2 1032.6 441.2 1032.6 443.2 1032.6 445.2 1032.6 447.2 1032.6 449.2 1032.5 451.2 1032.5 453.2 1032.5 455.2 1032.5 457.2 1032.5 459.2 1032.5 461.2 1032.5 463.2 1032.5 465.2 1032.5 467.2 1032.5 469.2 1032.5 471.2 1032.5 473.2 1032.5 475.2 1032.5 477.2 1032.5 479.2 1032.5 481.2 1032.5 483.2 1032.5 485.2 1032.5 487.2 1032.5 489.2 1032.5 491.3 1032.5 493.3 1032.5 495.3 1032.5 497.3 1032.5 499.3 1032.5 501.3 1032.5 503.3 1032.5 505.3 1032.5 507.3 1032.5 509.3 1032.5 511.3 1032.5 513.3 1032.5 515.3 1032.5 517.3 1032.5 519.3 1032.5 521.3 1032.5 523.3 1032.5 525.3 1032.5 527.3 1032.5 529.3 1032.5 531.3 1032.5 533.3 1032.5 535.3 1032.5 537.3 1032.5 539.3 1032.5 541.3 1032.5 543.3 1032.5 545.3 1032.5 547.3 1032.6 549.3 1032.6 551.3 1032.6 553.3 1032.6 555.3 1032.6 557.3 1032.6 559.3 1032.6 561.3 1032.6 563.3 1032.6 565.3 1032.6 567.3 1032.6 569.3 1032.6 571.3 1032.6 573.3 1032.6 575.3 1032.6 577.3 1032.6 579.3 1032.7 581.3 1032.7 583.3 1032.7 585.3 1032.7 587.3 1032.7 589.3 1032.7 591.3 1032.7 593.3 1032.7 595.3 1032.7 597.3 1032.7 599.3 1032.7 601.4 1032.7 603.4 1032.8 605.4 1032.8 607.4 1032.8 609.4 1032.8 611.4 1032.8 613.4 1032.8 615.4 1032.8 617.4 1032.8 619.4 1032.8 621.4 1032.8 623.4 1032.8 625.4 1032.9 627.4 1032.9 629.4 1032.9 631.4 1032.9 633.4 1032.9 635.4 1032.9 637.4 1032.9 639.4 1032.9 641.4 1032.9 643.4 1033.0 645.4 1033.0 647.4 1033.0 649.4 1033.0 651.4 1033.0 653.4 1033.0 655.4 1033.0 657.4 1033.0 659.4 1033.1 661.4 1033.1 663.4 1033.1 665.4 1033.1 667.4 1033.1 669.4 1033.1 671.5 1033.2 673.5 1033.2 675.5 1033.2 677.5 1033.2 679.5 1033.2 681.5 1033.3 683.5 1033.3 685.5 1033.3 687.5 1033.3 689.5 1033.4 691.6 1033.4 693.6 1033.4 695.6 1033.5 697.6 1033.5 699.6 1033.5 701.6 1033.6 703.6 1033.6 705.7 1033.7 707.7 1033.7 709.7 1033.7 711.7 1033.8 713.7 1033.8 715.8 1033.9 717.8 1033.9 719.8 1033.9 721.8 1034.0 723.9 1034.0 725.9 1034.0 727.9 1034.0 729.9 1034.1 731.9 1034.1 734.0 1034.1 736.0 1034.1 738.0 1034.1 740.0 1034.1 742.1 1034.1 744.1 1034.1 746.1 1034.1 748.1 1034.0 750.1 1034.0 752.1 1034.0 754.2 1033.9 756.2 1033.9 758.2 1033.8 760.2 1033.7 762.2 1033.6 764.2 1033.5 766.2 1033.4 768.2 1033.3 770.2 1033.1 772.2 1033.0 774.2 1032.8 776.2 1032.6 778.2 1032.4 780.1 1032.1 782.1 1031.9 784.1 1031.6 786.0 1031.3 788.0 1030.9 789.9 1030.5 791.8 1030.1 793.7 1029.7 795.6 1029.2 797.5 1028.7 799.4 1028.1 801.3 1027.5 803.1 1026.9 805.0 1026.2 806.8 1025.5 808.6 1024.8 810.4 1024.0 812.2 1023.2 813.9 1022.3 815.7 1021.4 817.4 1020.4 819.1 1019.5 820.8 1018.5 822.5 1017.4 824.2 1016.4 825.8 1015.3 827.4 1014.1 829.1 1013.0 830.7 1011.8 832.3 1010.6 833.9 1009.4 835.4 1008.1 837.0 1006.9 838.5 1005.6 840.1 1004.3 841.6 1003.0 843.1 1001.7 844.6 1000.3 846.1 999.0 847.6 997.6 849.0 996.2 850.5 994.9 851.9 993.5 853.4 992.1 854.8 990.7 856.3 989.2 857.7 987.8 859.1 986.4 860.6 985.0 862.0 983.6 863.4 982.1 864.8 980.7 866.2 979.2 867.6 977.8 869.0 976.4 870.4 974.9 871.8 973.5 873.3 972.0 874.7 970.6 876.1 969.2 877.5 967.7 878.9 966.3 880.3 964.9 881.7 963.4 883.1 962.0 884.6 960.6 886.0 959.2 887.4 957.8 888.9 956.4 890.3 955.1 891.8 953.7 893.3 952.3 894.7 951.0 896.2 949.7 897.7 948.4 899.3 947.1 900.8 945.8 902.3 944.6 903.9 943.4 905.5 942.2 907.1 941.0 908.7 939.9 910.3 938.8 912.0 937.7 913.7 936.7 915.4 935.7 917.1 934.7 918.8 933.7 920.5 932.8 922.3 931.9 924.1 931.1 925.9 930.2 927.7 929.4 929.5 928.6 931.4 927.9 933.2 927.1 935.1 926.4 936.9 925.7 938.8 925.0 940.7 924.3 942.6 923.6 944.5 923.0 946.4 922.4 948.3 921.7 950.2 921.1 952.1 920.5 954.0 919.9 955.9 919.3 957.9 918.7 959.8 918.2 961.7 917.6 963.6 917.0 965.6 916.5 967.5 915.9 969.4 915.4 971.4 914.8 973.3 914.2 975.2 913.7 977.1 913.1 979.1 912.6 981.0 912.0 982.9 911.4 984.8 910.8 986.8 910.3 988.7 909.7 990.6 909.1 992.5 908.5 994.4 907.8 996.3 907.2 998.2 906.5 1000.1 905.9 1002.0 905.2 1003.8 904.5 1005.7 903.8 1007.6 903.1 1009.5 902.4 1011.3 901.6 1013.2 900.9 1015.0 900.1 1016.9 899.3 1018.7 898.6 1020.5 897.7 1022.4 896.9 1024.2 896.1 1026.0 895.3 1027.8 894.4 1029.6 893.5 1031.4 892.7 1033.2 891.8 1035.0 890.9 1036.8 890.0 1038.5 889.0 1040.3 888.1 1042.1 887.1 1043.8 886.2 1045.5 885.2 1047.3 884.2 1049.0 883.2 1050.7 882.2 1052.4 881.1 1054.1 880.1 1055.8 879.0 1057.5 878.0 1059.2 876.9 1060.9 875.8 1062.5 874.7 1064.2 873.6 1065.8 872.4 1067.5 871.3 1069.1 870.1 1070.7 869.0 1072.3 867.8 1073.9 866.6 1075.5 865.4 1077.1 864.2 1078.7 862.9 1080.2 861.7 1081.8 860.4 1083.3 859.2 1084.9 857.9 1086.4 856.6 1087.9 855.3 1089.4 854.0 1090.9 852.7 1092.4 851.4 1093.9 850.0 1095.4 848.7 1096.8 847.3 1098.3 845.9 1099.7 844.6 1101.2 843.2 1102.6 841.8 1104.0 840.4 1105.4 838.9 1106.8 837.5 1108.2 836.1 1109.6 834.7 1111.0 833.2 1112.4 831.7 1113.7 830.3 1115.1 828.8 1116.5 827.3 1117.8 825.9 1119.1 824.4 1120.5 822.9 1121.8 821.4 1123.1 819.9 1124.5 818.4 1125.8 816.9 1127.1 815.4 1128.4 813.8 1129.7 812.3 1131.0 810.8 1132.3 809.3 1133.6 807.7 1134.9 806.2 1136.2 804.7 1137.5 803.1 1138.7 801.6 1140.0 800.0 1141.3 798.5 1142.5 796.9 1143.8 795.4 1145.1 793.8 1146.3 792.3 1147.6 790.7 1148.9 789.1 1150.1 787.6 1151.4 786.0 1152.6 784.5 1153.9 782.9 1155.1 781.3 1156.4 779.8 1157.6 778.2 1158.9 776.6 1160.1 775.0 1161.4 773.5 1162.6 771.9 1163.8 770.3 1165.1 768.8 1166.3 767.2 1167.6 765.6 1168.8 764.1 1170.1 762.5 1171.3 760.9 1172.5 759.3 1173.8 757.8 1175.0 756.2 1176.3 754.6 1177.5 753.1 1178.7 751.5 1180.0 749.9 1181.2 748.3 1182.5 746.8 1183.7 745.2 1185.0 743.6 1186.2 742.1 1187.4 740.5 1188.7 738.9 1189.9 737.4 1191.2 735.8 1192.4 734.2 1193.6 732.7 1194.9 731.1 1196.1 729.5 1197.4 728.0 1198.6 726.4 1199.8 724.8 1201.1 723.2 1202.3 721.7 1203.5 720.1 1204.8 718.5 1206.0 717.0 1207.2 715.4 1208.5 713.8 1209.7 712.2 1210.9 710.6 1212.1 709.1 1213.4 707.5 1214.6 705.9 1215.8 704.3 1217.0 702.7 1218.2 701.2 1219.5 699.6 1220.7 698.0 1221.9 696.4 1223.1 694.8 1224.3 693.2 1225.5 691.6 1226.8 690.0 1228.0 688.5 1229.2 686.9 1230.4 685.3 1231.6 683.7 1232.8 682.1 1234.0 680.5 1235.2 678.9 1236.4 677.3 1237.6 675.7 1238.8 674.1 1240.0 672.5 1241.2 670.9 1242.4 669.3 1243.6 667.7 1244.8 666.1 1246.0 664.4 1247.2 662.8 1248.3 661.2 1249.5 659.6 1250.7 658.0 1251.9 656.4 1253.0 654.7 1254.2 653.1 1255.4 651.5 1256.5 649.9 1257.7 648.2 1258.8 646.6 1260.0 645.0 1261.1 643.3 1262.3 641.7 1263.4 640.0 1264.5 638.4 1265.6 636.7 1266.8 635.1 1267.9 633.4 1269.0 631.7 1270.1 630.1 1271.2 628.4 1272.3 626.7 1273.4 625.0 1274.5 623.4 1275.5 621.7 1276.6 620.0 1277.7 618.3 1278.7 616.6 1279.8 614.9 1280.8 613.2 1281.9 611.5 1282.9 609.8 1284.0 608.1 1285.0 606.4 1286.0 604.7 1287.0 602.9 1288.1 601.2 1289.1 599.5 1290.1 597.8 1291.1 596.0 1292.0 594.3 1293.0 592.5 1294.0 590.8 1295.0 589.1 1296.0 587.3 1296.9 585.6 1297.9 583.8 1298.8 582.0 1299.8 580.3 1300.7 578.5 1301.7 576.7 1302.6 575.0 1303.5 573.2 1304.5 571.4 1305.4 569.7 1306.3 567.9 1307.2 566.1 1308.1 564.3 1309.0 562.5 1310.0 560.8 1310.9 559.0 1311.8 557.2 1312.6 555.4 1313.5 553.6 1314.4 551.8 1315.3 550.0 1316.2 548.2 1317.1 546.4 1317.9 544.6 1318.8 542.8 1319.7 541.0 1320.5 539.2 1321.4 537.4 1322.2 535.5 1323.1 533.7 1323.9 531.9 1324.8 530.1 1325.6 528.3 1326.4 526.5 1327.3 524.6 1328.1 522.8 1328.9 521.0 1329.8 519.2 1330.6 517.3 1331.4 515.5 1332.2 513.7 1333.0 511.9 1333.9 510.0 1334.7 508.2 1335.5 506.4 1336.3 504.5 1337.1 502.7 1337.9 500.9 1338.7 499.0 1339.5 497.2 1340.3 495.3 1341.1 493.5 1341.9 491.7 1342.6 489.8 1343.4 488.0 1344.2 486.1 1345.0 484.3 1345.8 482.5 1346.5 480.6 1347.3 478.8 1348.1 476.9 1348.9 475.1 1349.6 473.2 1350.4 471.4 1351.2 469.5 1351.9 467.7 1352.7 465.8 1353.4 464.0 1354.2 462.1 1354.9 460.3 1355.7 458.4 1356.4 456.5 1357.2 454.7 1357.9 452.8 1358.7 451.0 1359.4 449.1 1360.1 447.3 1360.8 445.4 1361.6 443.5 1362.3 441.7 1363.0 439.8 1363.7 437.9 1364.4 436.0 1365.1 434.2 1365.8 432.3 1366.5 430.4 1367.2 428.5 1367.8 426.7 1368.5 424.8 1369.2 422.9 1369.8 421.0 1370.5 419.1 1371.1 417.2 1371.8 415.3 1372.4 413.4 1373.0 411.6 1373.7 409.7 1374.3 407.8 1374.9 405.9 1375.5 403.9 1376.1 402.0 1376.6 400.1 1377.2 398.2 1377.8 396.3 1378.3 394.4 1378.9 392.5 1379.4 390.5 1379.9 388.6 1380.5 386.7 1381.0 384.7 1381.5 382.8 1382.0 380.9 1382.5 378.9 1383.0 377.0 1383.5 375.1 1384.0 373.1 1384.5 371.2 1383.2 372.7 1382.0 374.3 1380.7 375.8 1379.4 377.4 1378.2 379.0 1376.9 380.5 1375.7 382.1 1374.4 383.6 1373.1 385.2 1371.9 386.7 1370.6 388.3 1369.4 389.9 1368.2 391.4 1366.9 393.0 1365.7 394.6 1364.4 396.1 1363.2 397.7 1362.0 399.3 1360.7 400.9 1359.5 402.4 1358.3 404.0 1357.0 405.6 1355.8 407.2 1354.6 408.8 1353.4 410.3 1352.1 411.9 1350.9 413.5 1349.7 415.1 1348.5 416.7 1347.3 418.3 1346.1 419.9 1344.9 421.5 1343.7 423.1 1342.4 424.7 1341.2 426.3 1340.0 427.9 1338.8 429.5 1337.6 431.1 1336.4 432.7 1335.3 434.3 1334.1 435.9 1332.9 437.5 1331.7 439.1 1330.5 440.7 1329.3 442.3 1328.1 443.9 1326.9 445.5 1325.7 447.1 1324.5 448.7 1323.3 450.4 1322.1 452.0 1321.0 453.6 1319.8 455.2 1318.6 456.8 1317.4 458.4 1316.2 460.0 1315.0 461.6 1313.8 463.2 1312.6 464.8 1311.4 466.4 1310.2 468.0 1309.0 469.6 1307.8 471.2 1306.6 472.9 1305.4 474.5 1304.2 476.1 1303.0 477.7 1301.8 479.3 1300.6 480.9 1299.4 482.5 1298.2 484.1 1297.0 485.7 1295.8 487.3 1294.6 488.9 1293.4 490.5 1292.2 492.1 1291.0 493.6 1289.8 495.2 1288.6 496.8 1287.4 498.4 1286.2 500.0 1285.0 501.6 1283.8 503.2 1282.6 504.8 1281.4 506.4 1280.2 508.0 1279.0 509.6 1277.8 511.2 1276.6 512.8 1275.4 514.5 1274.2 516.1 1273.0 517.7 1271.8 519.3 1270.7 520.9 1269.5 522.5 1268.3 524.1 1267.1 525.7 1265.9 527.3 1264.7 529.0 1263.6 530.6 1262.4 532.2 1261.2 533.8 1260.0 535.4 1258.9 537.0 1257.7 538.7 1256.5 540.3 1255.4 541.9 1254.2 543.5 1253.0 545.2 1251.8 546.8 1250.7 548.4 1249.5 550.0 1248.3 551.7 1247.2 553.3 1246.0 554.9 1244.8 556.5 1243.7 558.2 1242.5 559.8 1241.3 561.4 1240.2 563.0 1239.0 564.7 1237.8 566.3 1236.7 567.9 1235.5 569.5 1234.4 571.2 1233.2 572.8 1232.0 574.4 1230.9 576.1 1229.7 577.7 1228.6 579.3 1227.4 581.0 1226.2 582.6 1225.1 584.2 1223.9 585.9 1222.8 587.5 1221.6 589.1 1220.5 590.8 1219.3 592.4 1218.2 594.0 1217.0 595.7 1215.9 597.3 1214.7 599.0 1213.6 600.6 1212.5 602.2 1211.3 603.9 1210.2 605.5 1209.0 607.2 1207.9 608.8 1206.8 610.5 1205.6 612.1 1204.5 613.8 1203.4 615.4 1202.2 617.1 1201.1 618.7 1200.0 620.4 1198.8 622.0 1197.7 623.7 1196.6 625.3 1195.5 627.0 1194.3 628.7 1193.2 630.3 1192.1 632.0 1191.0 633.6 1189.9 635.3 1188.7 636.9 1187.6 638.6 1186.5 640.2 1185.4 641.9 1184.2 643.6 1183.1 645.2 1182.0 646.9 1180.8 648.5 1179.7 650.2 1178.6 651.8 1177.5 653.5 1176.3 655.1 1175.2 656.8 1174.0 658.4 1172.9 660.0 1171.8 661.7 1170.6 663.3 1169.5 665.0 1168.3 666.6 1167.2 668.2 1166.0 669.9 1164.8 671.5 1163.7 673.1 1162.5 674.7 1161.3 676.4 1160.2 678.0 1159.0 679.6 1157.8 681.2 1156.6 682.8 1155.4 684.4 1154.2 686.0 1153.0 687.6 1151.8 689.2 1150.6 690.8 1149.4 692.4 1148.2 694.0 1147.0 695.6 1145.7 697.2 1144.5 698.8 1143.3 700.4 1142.0 701.9 1140.8 703.5 1139.6 705.1 1138.3 706.7 1137.1 708.2 1135.8 709.8 1134.6 711.4 1133.3 712.9 1132.0 714.5 1130.8 716.1 1129.5 717.6 1128.2 719.2 1126.9 720.7 1125.7 722.2 1124.4 723.8 1123.1 725.3 1121.8 726.8 1120.5 728.4 1119.1 729.9 1117.8 731.4 1116.5 732.9 1115.2 734.4 1113.8 735.9 1112.5 737.4 1111.1 738.8 1109.7 740.3 1108.3 741.7 1106.9 743.2 1105.5 744.6 1104.1 746.0 1102.7 747.4 1101.3 748.8 1099.8 750.2 1098.3 751.6 1096.9 752.9 1095.4 754.3 1093.9 755.6 1092.4 756.9 1090.9 758.2 1089.3 759.5 1087.8 760.7 1086.2 762.0 1084.6 763.2 1083.0 764.4 1081.4 765.6 1079.8 766.8 1078.2 767.9 1076.6 769.1 1074.9 770.2 1073.2 771.3 1071.5 772.3 1069.8 773.4 1068.1 774.4 1066.4 775.4 1064.6 776.4 1062.9 777.3 1061.1 778.3 1059.3 779.2 1057.5 780.0 1055.7 780.9 1053.9 781.7 1052.0 782.5 1050.2 783.2 1048.3 784.0 1046.4 784.7 1044.5 785.3 1042.6 785.9 1040.6 786.5 1038.7 787.0 1036.8 787.5 1034.8 787.9 1032.8 788.3 1030.9 788.6 1028.9 788.8 1026.9 789.0 1025.0 789.2 1023.0 789.2 1021.0 789.2 1019.1 789.1 1017.1 788.9 1015.2 788.7 1013.2 788.4 1011.3 787.9 1009.4 787.5 1007.6 786.9 1005.7 786.3 1003.9 785.6 1002.1 784.8 1000.3 784.0 998.6 783.0 996.9 782.1 995.2 781.0 993.6 779.9 992.0 778.8 990.4 777.6 988.8 776.3 987.3 775.1 985.8 773.7 984.3 772.4 982.8 771.0 981.4 769.6 980.0 768.2 978.6 766.8 977.2 765.3 975.8 763.9 974.5 762.4 973.2 760.8 971.9 759.3 970.6 757.7 969.4 756.2 968.2 754.6 967.0 753.0 965.8 751.3 964.7 749.7 963.6 748.0 962.5 746.3 961.4 744.6 960.4 742.9 959.3 741.1 958.3 739.4 957.3 737.6 956.3 735.8 955.3 734.0 954.3 732.2 953.3 730.4 952.3 728.7 951.3 726.9 950.3 725.1 949.2 723.3 948.1 721.5 947.0 719.8 945.9 718.0 944.8 716.3 943.6 714.6 942.4 713.0 941.1 711.4 939.8 709.8 938.5 708.3 937.1 706.8 935.7 705.4 934.2 704.1 932.7 702.9 931.1 701.7 929.5 700.7 927.9 699.8 926.3 699.0 924.6 698.3 922.8 697.8 921.1 697.4 919.3 697.1 917.6 697.0 915.8 697.1 914.0 697.3 912.2 697.7 910.5 698.2 908.8 698.9 907.0 699.6 905.4 700.5 903.7 701.5 902.1 702.5 900.5 703.7 899.0 704.9 897.5 706.3 896.0 707.6 894.5 709.1 893.1 710.6 891.8 712.1 890.5 713.7 889.2 715.3 887.9 716.9 886.7 718.6 885.5 720.3 884.3 722.0 883.1 723.7 882.0 725.4 880.9 727.1 879.8 728.9 878.7 730.6 877.7 732.4 876.7 734.2 875.7 736.0 874.7 737.7 873.7 739.5 872.7 741.3 871.7 743.1 870.8 744.9 869.9 746.7 868.9 748.5 868.0 750.3 867.1 752.1 866.2 753.9 865.3 755.8 864.4 757.6 863.6 759.4 862.7 761.2 861.9 763.0 861.0 764.8 860.2 766.7 859.3 768.5 858.5 770.3 857.7 772.1 856.9 774.0 856.1 775.8 855.3 777.6 854.5 779.5 853.7 781.3 853.0 783.2 852.2 785.0 851.4 786.9 850.6 788.7 849.9 790.6 849.1 792.4 848.4 794.3 847.6 796.1 846.9 798.0 846.1 799.8 845.4 801.7 844.6 803.5 843.9 805.4 843.1 807.2 842.4 809.1 841.6 810.9 840.9 812.8 840.1 814.6 839.4 816.5 838.6 818.4 837.9 820.2 837.1 822.1 836.4 823.9 835.7 825.8 834.9 827.6 834.2 829.5 833.5 831.4 832.8 833.2 832.0 835.1 831.3 837.0 830.6 838.8 829.9 840.7 829.2 842.6 828.5 844.4 827.8 846.3 827.1 848.2 826.3 850.1 825.6 851.9 824.9 853.8 824.2 855.7 823.5 857.5 822.8 859.4 822.1 861.3 821.4 863.2 820.7 865.0 820.0 866.9 819.3 868.8 818.6 870.7 817.9 872.5 817.2 874.4 816.4 876.3 815.7 878.1 815.0 880.0 814.3 881.9 813.6 883.7 812.9 885.6 812.2 887.5 811.5 889.4 810.8 891.2 810.0 893.1 809.3 895.0 808.6 896.8 807.9 898.7 807.2 900.6 806.5 902.4 805.7 904.3 805.0 906.2 804.3 908.0 803.6 909.9 802.9 911.8 802.1 913.6 801.4 915.5 800.7 917.4 799.9 919.2 799.2 921.1 798.4 922.9 797.7 924.8 796.9 926.7 796.2 928.5 795.4 930.4 794.7 932.2 793.9 934.1 793.1 935.9 792.3 937.7 791.6 939.6 790.8 941.4 790.0 943.3 789.2 945.1 788.3 946.9 787.5 948.7 786.7 950.6 785.8 952.4 785.0 954.2 784.1 956.0 783.2 957.8 782.3 959.6 781.4 961.3 780.5 963.1 779.5 964.9 778.6 966.7 777.6 968.4 776.6 970.2 775.6 971.9 774.6 973.7 773.6 975.4 772.6 977.1 771.5 978.8 770.5 980.6 769.4 982.3 768.3 983.9 767.2 985.6 766.0 987.3 764.9 988.9 763.7 990.5 762.4 992.1 761.2 993.7 759.9 995.2 758.6 996.7 757.2 998.2 755.8 999.6 754.4 1001.0 753.0 1002.4 751.4 1003.7 749.9 1004.9 748.3 1006.1 746.7 1007.2 745.0 1008.3 743.3 1009.3 741.6 1010.3 739.9 1011.1 738.1 1011.9 736.2 1012.7 734.4 1013.3 732.5 1013.9 730.6 1014.5 728.6 1014.9 726.7 1015.4 724.7 1015.7 722.8 1016.0 720.8 1016.3 718.8 1016.5 716.8 1016.7 714.8 1016.9 712.8 1017.0 710.8 1017.2 708.7 1017.3 706.7 1017.4 704.7 1017.5 702.7 1017.7 700.7 1017.8 698.7 1018.0 696.7 1018.2 694.7 1018.5 692.7 1018.7 690.8 1019.0 688.8 1019.3 686.8 1019.7 684.9 1020.1 682.9 1020.5 681.0 1020.9 679.0 1021.4 677.0 1021.8 675.1 1022.2 673.1 1022.6 671.2 1023.0 669.2 1023.3 667.2 1023.7 665.2 1024.0 663.3 1024.3 661.3 1024.5 659.3 1024.8 657.3 1025.0 655.3 1025.2 653.3 1025.4 651.3 1025.5 649.3 1025.7 647.3 1025.8 645.3 1025.9 643.3 1026.1 641.3 1026.2 639.3 1026.3 637.3 1026.4 635.3 1026.5 633.3 1026.5 631.3 1026.6 629.3 1026.7 627.3 1026.8 625.3 1026.8 623.3 1026.9 621.3 1026.9 619.3 1027.0 617.3 1027.0 615.3 1027.1 613.3 1027.1 611.3 1027.1 609.3 1027.2 607.3 1027.2 605.3 1027.2 603.3 1027.2 601.3 1027.2 599.3 1027.2 597.3 1027.2 595.3 1027.2 593.3 1027.2 591.3 1027.2 589.3 1027.2 587.3 1027.2 585.3 1027.2 583.3 1027.2 581.3 1027.2 579.3 1027.2 577.3 1027.2 575.3 1027.1 573.3 1027.1 571.3 1027.1 569.3 1027.1 567.3 1027.1 565.3 1027.0 563.3 1027.0 561.3 1027.0 559.3 1027.0 557.3 1026.9 555.3 1026.9 553.3 1026.9 551.3 1026.8 549.3 1026.8 547.3 1026.8 545.3 1026.8 543.3 1026.7 541.3 1026.7 539.3 1026.7 537.3 1026.6 535.3 1026.6 533.2 1026.6 531.2 1026.5 529.2 1026.5 527.2 1026.5 525.2 1026.4 523.2 1026.4 521.2 1026.4 519.2 1026.4 517.2 1026.3 515.2 1026.3 513.2 1026.3 511.2 1026.2 509.2 1026.2 507.2 1026.2 505.2 1026.2 503.2 1026.1 501.2 1026.1 499.2 1026.1 497.2 1026.1 495.2 1026.0 493.2 1026.0 491.2 1026.0 489.2 1026.0 487.2 1025.9 485.2 1025.9 483.2 1025.9 481.2 1025.9 479.2 1025.9 477.2 1025.8 475.2 1025.8 473.2 1025.8 471.2 1025.8 469.2 1025.8 467.2 1025.8 465.2 1025.8 463.2 1025.8 461.2 1025.7 459.2 1025.7 457.2 1025.7 455.2 1025.7 453.2 1025.7 451.2 1025.7 449.2 1025.7 447.2 1025.7 445.2 1025.7 443.2 1025.7 441.2 1025.8 439.2 1025.8 437.2 1025.8 435.2 1025.8 433.2 1025.8 431.2 1025.8 429.2 1025.8 427.2 1025.8 425.2 1025.9 423.2 1025.9 421.2 1025.9 419.2 1025.9 417.2 1026.0 415.2 1026.0 413.1 1026.0 411.1 1026.0 409.1 1026.1 407.1 1026.1 405.1 1026.1 403.1 1026.2 401.1 1026.2 399.1 1026.3 397.1 1026.3 395.1 1026.3 393.1 1026.4 391.1 1026.4 389.1 1026.5 387.1 1026.5 385.1 1026.5 383.1 1026.6 381.1 1026.6 379.1 1026.7 377.1 1026.7 375.1 1026.8 373.1 1026.8 371.1 1026.9 369.1 1026.9 367.1 1027.0 365.1 1027.0 363.1 1027.1 361.1 1027.1 359.1 1027.2 357.1 1027.2 355.1 1027.3 353.1 1027.3 351.1 1027.4 349.1 1027.4 347.1 1027.5 345.1 1027.5 343.1 1027.6 341.1 1027.7 339.1 1027.7 337.1 1027.8 335.1 1027.8 333.1 1027.9 331.1 1027.9 329.1 1028.0 327.1 1028.0 325.1 1028.1 323.1 1028.2 321.1 1028.2 319.1 1028.3 317.1 1028.3 315.1 1028.4 313.1 1028.4 311.1 1028.5 309.1 1028.5 307.1 1028.6 305.1 1028.6 303.1 1028.7 301.1 1028.8 299.1 1028.8 297.1 1028.9 295.1 1028.9 293.1 1029.0 291.1 1029.0 289.1 1029.1 287.1 1029.1 285.1 1029.2 283.1 1029.2 281.1 1029.2 279.1 1029.3 277.1 1029.3 275.1 1029.4 273.1 1029.4 271.1 1029.5 269.1 1029.5 267.1 1029.5 265.1 1029.6 263.1 1029.6 261.1 1029.7 259.1 1029.7 257.1 1029.7 255.1 1029.8 253.1 1029.8 251.1 1029.8 249.1 1029.9 247.1 1029.9 245.1 1029.9 243.0 1030.0 241.0 1030.0 239.0 1030.0 237.0 1030.0 235.0 1030.1 233.0 1030.1 231.0 1030.1 229.0 1030.1 227.0 1030.1 225.0 1030.2 223.0 1030.2 221.0 1030.2 219.0 1030.2 217.0 1030.2 215.0 1030.2 213.0 1030.2 211.0 1030.3 209.0 1030.3 207.0 1030.3 205.0 1030.3 203.0 1030.3 201.0 1030.3 199.0 1030.3 197.0 1030.3 195.0 1030.3 193.0 1030.4 191.0 1030.4 189.0 1030.4 187.0 1030.4 185.0 1030.4 183.0 1030.4 181.0 1030.4" stroke="#00aa60"/>
</g>
<g stroke="#000" stroke-width="4.6" fill="none">
<rect x="181" y="45.4" width="1264" height="1084.8"/>
</g>
<g stroke="#000" stroke-width="4.4" fill="none">
<path d="M161 45.4H181M161 242.5H181M161 439.6H181M161 636.7H181M161 833.8H181M161 1030.9H181"/>
<path d="M171 143.95H181M171 341.05H181M171 538.15H181M171 735.25H181M171 932.35H181M171 1130.2H181"/>
<path d="M181 1130V1149.4M482 1130V1149.4M783 1130V1149.4M1084 1130V1149.4M1385 1130V1149.4"/>
<path d="M331.5 1130V1138.6M632.5 1130V1138.6M933.5 1130V1138.6M1234.5 1130V1138.6"/>
</g>
<g class="b" font-size="53" text-anchor="end">
<text x="149.5" y="61.5">1.0</text>
<text x="149.5" y="258.6">0.8</text>
<text x="149.5" y="455.7">0.6</text>
<text x="149.5" y="652.8">0.4</text>
<text x="149.5" y="849.9">0.2</text>
<text x="149.5" y="1047">0.0</text>
</g>
<g class="b" font-size="53" text-anchor="middle">
<text x="181" y="1204">−0.5</text>
<text x="482" y="1204">−1.0</text>
<text x="783" y="1204">−1.5</text>
<text x="1084" y="1204">−2.0</text>
<text x="1385" y="1204">−2.5</text>
</g>
<text class="b" font-size="56" x="594" y="1301" letter-spacing="0.45">E(V vs. Ag/AgI/I</text>
<rect x="999" y="1267.3" width="11.5" height="3.6" fill="#000"/>
<text class="b" font-size="56" x="1010.5" y="1301">)</text>
<text class="b" font-size="56" text-anchor="middle" transform="translate(60.5,587.5) rotate(-90)">I(mA)</text>
<g stroke-width="4" stroke-linecap="round">
<path d="M238 127.5H342" stroke="#464646"/>
<path d="M238 190H342" stroke="#ff3333"/>
<path d="M238 253.6H342" stroke="#0066dd"/>
<path d="M238 317H342" stroke="#00aa60"/>
</g>
<g font-size="53">
<text x="366" y="145.5">a</text>
<text x="366" y="208.5">b</text>
<text x="366" y="272">c</text>
<text x="366" y="335.5">d</text>
</g>
</svg>
</body></html>
